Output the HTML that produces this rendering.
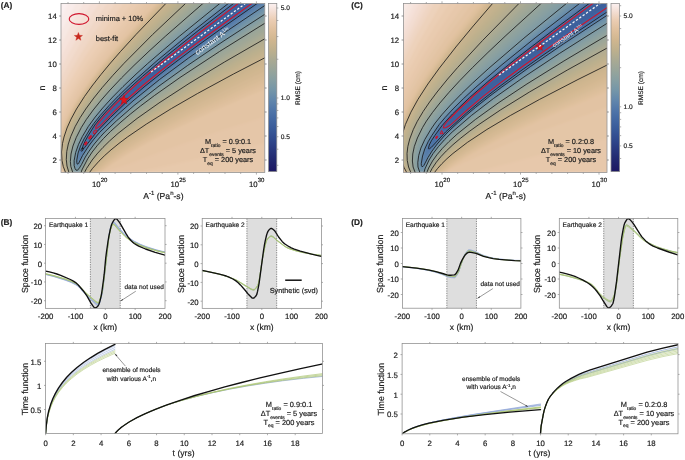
<!DOCTYPE html><html><head><meta charset="utf-8"><style>html,body{margin:0;padding:0;background:#fff;overflow:hidden;font-family:'Liberation Sans',sans-serif;}svg{display:block;will-change:transform;}</style></head><body><svg text-rendering="geometricPrecision" width="685" height="460" viewBox="0 0 685 460" font-family="'Liberation Sans', sans-serif">
<defs><filter id="blur1" x="-5%" y="-5%" width="110%" height="110%"><feGaussianBlur stdDeviation="0.9"/></filter><clipPath id="clipA"><rect x="61" y="3.5" width="203.8" height="168.9"/></clipPath><linearGradient id="cbA" x1="0" y1="1" x2="0" y2="0"><stop offset="0.000" stop-color="#1c1762"/><stop offset="0.066" stop-color="#21276e"/><stop offset="0.128" stop-color="#28377d"/><stop offset="0.188" stop-color="#2f488c"/><stop offset="0.247" stop-color="#375898"/><stop offset="0.307" stop-color="#4267a2"/><stop offset="0.366" stop-color="#5076a9"/><stop offset="0.426" stop-color="#6287ac"/><stop offset="0.485" stop-color="#7596a8"/><stop offset="0.545" stop-color="#879fa2"/><stop offset="0.604" stop-color="#98a59a"/><stop offset="0.664" stop-color="#aaaa93"/><stop offset="0.723" stop-color="#beb08d"/><stop offset="0.782" stop-color="#d0b68f"/><stop offset="0.842" stop-color="#dfc09d"/><stop offset="0.901" stop-color="#ebcdb3"/><stop offset="0.961" stop-color="#f5e2da"/><stop offset="1.000" stop-color="#fbf1f1"/></linearGradient><clipPath id="clipC"><rect x="403.4" y="3.5" width="203.60000000000002" height="168.9"/></clipPath><linearGradient id="cbC" x1="0" y1="1" x2="0" y2="0"><stop offset="0.000" stop-color="#1c1762"/><stop offset="0.066" stop-color="#21276e"/><stop offset="0.128" stop-color="#28377d"/><stop offset="0.188" stop-color="#2f488c"/><stop offset="0.247" stop-color="#375898"/><stop offset="0.307" stop-color="#4267a2"/><stop offset="0.366" stop-color="#5076a9"/><stop offset="0.426" stop-color="#6287ac"/><stop offset="0.485" stop-color="#7596a8"/><stop offset="0.545" stop-color="#879fa2"/><stop offset="0.604" stop-color="#98a59a"/><stop offset="0.664" stop-color="#aaaa93"/><stop offset="0.723" stop-color="#beb08d"/><stop offset="0.782" stop-color="#d0b68f"/><stop offset="0.842" stop-color="#dfc09d"/><stop offset="0.901" stop-color="#ebcdb3"/><stop offset="0.961" stop-color="#f5e2da"/><stop offset="1.000" stop-color="#fbf1f1"/></linearGradient><clipPath id="clipB1"><rect x="45.6" y="218.14999999999998" width="119.4" height="90.50000000000003"/></clipPath><clipPath id="clipB2"><rect x="202.2" y="218.14999999999998" width="119.19999999999999" height="90.50000000000003"/></clipPath><clipPath id="clipD1"><rect x="402.4" y="218.1" width="118.5" height="90.39999999999998"/></clipPath><clipPath id="clipD2"><rect x="559.3" y="218.2" width="118.5" height="90.29999999999998"/></clipPath><clipPath id="clipBT"><rect x="45.6" y="343.0" width="276.79999999999995" height="90.60000000000002"/></clipPath><clipPath id="clipDT"><rect x="402.1" y="343.1" width="275.9" height="90.69999999999999"/></clipPath></defs>
<rect width="685" height="460" fill="#fff"/>
<g clip-path="url(#clipA)">
<g filter="url(#blur1)">
<rect x="59" y="1.5" width="207.8" height="172.9" fill="#fbf1f1"/>
<path d="M265.5 173.0L265.5 2.5L68.2 2.5L60.0 19.5L60.0 173.0L265.5 173.0Z" fill="#f9ecea" fill-rule="evenodd"/>
<path d="M265.5 173.0L265.5 2.5L76.0 2.5L60.0 34.0L60.0 173.0L265.5 173.0Z" fill="#f7e8e3" fill-rule="evenodd"/>
<path d="M265.5 173.0L265.5 2.5L83.8 2.5L70.5 26.5L60.0 47.0L60.0 173.0L265.5 173.0Z" fill="#f6e3dc" fill-rule="evenodd"/>
<path d="M265.5 173.0L265.5 2.5L91.5 2.5L73.5 33.3L60.0 58.9L60.0 173.0L265.5 173.0Z" fill="#f4dfd5" fill-rule="evenodd"/>
<path d="M265.5 173.0L265.5 2.5L99.3 2.5L76.5 39.4L67.5 55.3L60.0 69.9L60.0 173.0L265.5 173.0Z" fill="#f2dbcd" fill-rule="evenodd"/>
<path d="M265.5 173.0L265.5 2.5L107.5 2.5L92.0 25.5L79.0 46.1L68.5 64.2L60.0 80.6L60.0 173.0L265.5 173.0Z" fill="#f0d7c6" fill-rule="evenodd"/>
<path d="M265.5 173.0L265.5 2.5L115.8 2.5L96.5 29.7L81.5 52.4L69.5 72.5L60.0 90.8L60.0 173.0L265.5 173.0Z" fill="#eed3be" fill-rule="evenodd"/>
<path d="M265.5 173.0L265.5 2.5L124.1 2.5L101.5 32.7L83.5 58.8L70.0 80.9L60.0 100.6L60.0 173.0L265.5 173.0Z" fill="#eccfb6" fill-rule="evenodd"/>
<path d="M265.5 173.0L265.5 2.5L132.5 2.5L106.0 36.1L86.0 63.8L71.0 87.8L65.3 98.5L60.7 108.5L60.0 110.1L60.0 172.1L60.6 173.0L265.5 173.0Z" fill="#eaccb1" fill-rule="evenodd"/>
<path d="M265.5 173.0L265.5 2.5L139.4 2.5L109.0 39.6L86.5 70.0L77.6 83.5L70.5 95.5L64.5 107.3L60.0 117.9L60.0 170.2L61.5 173.0L265.5 173.0Z" fill="#e7c9ac" fill-rule="evenodd"/>
<path d="M135.7 173.0L145.2 170.5L173.6 164.5L265.5 143.2L265.5 2.5L145.4 2.5L119.5 32.7L99.0 58.5L85.5 77.1L74.9 93.5L66.7 108.5L60.8 122.5L60.0 124.9L60.0 168.1L62.4 173.0L135.7 173.0Z" fill="#e5c6a8" fill-rule="evenodd"/>
<path d="M103.8 173.0L109.2 170.5L128.3 164.5L157.5 153.3L198.0 138.7L217.7 132.0L265.5 116.8L265.5 2.5L151.3 2.5L131.0 25.3L114.0 45.3L100.0 62.7L88.0 78.8L78.2 93.5L70.3 107.0L64.4 119.5L60.4 131.0L60.0 132.5L60.0 165.3L63.4 173.0L103.8 173.0Z" fill="#e3c4a4" fill-rule="evenodd"/>
<path d="M100.0 173.0L110.5 165.3L126.0 155.3L142.5 145.8L161.5 135.8L208.0 113.7L265.5 88.9L265.5 2.5L156.8 2.5L134.8 26.5L117.2 46.5L102.7 64.0L91.2 79.0L81.7 92.5L73.7 105.5L67.7 117.0L62.7 129.5L60.0 140.4L60.0 161.7L61.2 166.5L63.8 173.0L100.0 173.0Z" fill="#e0c19f" fill-rule="evenodd"/>
<path d="M98.6 173.0L111.5 163.2L124.5 154.6L141.0 144.8L159.5 134.7L206.5 111.8L265.5 85.7L265.5 2.5L158.1 2.5L120.5 43.9L106.0 61.1L93.5 77.1L83.0 91.8L74.7 105.0L68.4 117.0L63.6 128.5L61.5 135.5L60.0 142.7L60.0 160.3L61.3 166.0L64.1 173.0L98.6 173.0Z" fill="#debf9c" fill-rule="evenodd"/>
<path d="M97.2 173.0L109.5 163.2L122.5 154.1L138.5 144.2L158.0 133.3L181.5 121.2L206.0 109.3L265.5 82.3L265.5 2.5L159.4 2.5L121.5 43.9L107.0 61.0L94.5 76.8L84.2 91.0L75.9 104.0L69.4 116.0L64.4 127.5L61.6 136.5L60.0 145.3L60.2 160.0L61.7 166.5L64.3 173.0L97.2 173.0Z" fill="#dbbd99" fill-rule="evenodd"/>
<path d="M95.7 173.0L108.0 162.7L120.5 153.6L136.5 143.3L155.5 132.3L179.0 119.8L204.0 107.3L265.5 78.8L265.5 2.5L160.6 2.5L123.0 43.3L108.5 60.2L96.0 75.8L85.5 90.1L76.8 103.5L70.0 115.8L65.1 127.0L61.6 138.5L60.0 149.2L60.0 155.5L60.7 161.5L62.1 167.0L64.5 173.0L95.7 173.0Z" fill="#d8bb96" fill-rule="evenodd"/>
<path d="M94.3 173.0L106.0 162.5L118.0 153.4L134.0 142.7L152.0 131.8L176.0 118.7L202.0 105.3L265.5 75.0L265.5 2.5L161.8 2.5L124.0 43.3L109.5 60.1L97.0 75.5L86.5 89.7L78.0 102.6L71.0 114.9L65.9 126.0L61.8 139.0L60.2 151.0L60.4 157.0L61.2 162.5L62.5 167.5L64.7 173.0L94.3 173.0Z" fill="#d5b994" fill-rule="evenodd"/>
<path d="M92.8 173.0L104.0 162.4L115.5 153.2L131.0 142.3L148.5 131.3L173.5 117.1L199.5 103.3L230.5 87.8L265.5 71.0L265.5 2.5L163.0 2.5L125.5 42.7L111.0 59.3L98.5 74.6L87.7 89.0L79.0 101.9L72.0 114.0L66.8 125.0L62.4 138.5L61.1 145.0L60.6 151.0L60.7 157.0L61.4 162.5L62.7 167.5L64.9 173.0L92.8 173.0Z" fill="#d2b791" fill-rule="evenodd"/>
<path d="M91.4 173.0L102.5 161.8L114.0 152.1L129.5 140.8L147.5 129.3L171.5 115.2L198.0 100.7L229.0 84.7L265.5 66.7L265.5 2.5L164.3 2.5L127.0 42.1L112.0 59.2L99.5 74.3L89.0 88.2L80.0 101.3L73.0 113.2L67.5 124.5L62.9 138.0L61.5 144.5L60.9 150.5L60.9 156.5L61.6 162.0L63.0 167.5L65.0 172.8L91.4 173.0Z" fill="#cfb68f" fill-rule="evenodd"/>
<path d="M89.9 173.0L92.2 170.0L100.0 162.0L111.5 151.8L126.5 140.3L144.0 128.6L168.5 113.7L196.0 98.2L228.0 81.2L265.5 62.2L265.5 2.5L165.5 2.5L128.0 42.1L113.0 59.0L100.5 74.1L90.0 87.7L81.0 100.8L73.9 112.5L68.4 123.5L63.4 137.5L62.0 144.0L61.3 150.0L61.3 157.0L61.9 162.0L63.0 166.9L65.0 172.3L65.4 173.0L89.9 173.0Z" fill="#cbb48e" fill-rule="evenodd"/>
<path d="M89.1 173.0L92.5 168.4L99.0 161.1L111.0 149.9L127.5 137.0L146.5 124.0L171.5 108.5L197.5 93.5L233.5 74.0L265.5 57.4L265.5 2.5L166.8 2.5L130.0 41.0L103.0 72.0L92.0 86.0L80.5 102.5L74.5 112.5L68.5 124.5L65.6 132.0L63.5 138.9L61.6 151.0L62.1 161.5L63.3 166.5L65.3 172.0L65.8 173.0L89.1 173.0Z" fill="#c8b38e" fill-rule="evenodd"/>
<path d="M88.3 173.0L91.5 168.5L98.0 161.0L109.5 149.8L125.5 136.9L144.5 123.7L168.0 108.8L195.0 92.9L227.0 75.2L265.5 54.8L265.5 2.5L169.6 2.5L132.0 41.4L117.0 57.9L104.0 73.1L93.0 86.9L84.0 99.4L76.5 111.3L70.5 122.5L65.4 135.5L62.7 147.5L62.4 158.5L63.2 164.0L64.5 168.5L66.2 173.0L88.3 173.0Z" fill="#c4b28e" fill-rule="evenodd"/>
<path d="M87.6 173.0L90.5 168.6L97.0 160.8L108.5 149.3L124.5 136.2L143.5 122.7L166.5 107.8L194.5 91.1L227.0 72.9L265.5 52.2L265.5 2.5L172.6 2.5L134.5 41.2L106.5 72.3L95.5 85.9L86.0 98.7L78.3 110.5L72.2 121.5L66.8 134.5L63.8 146.0L63.0 157.0L63.5 162.5L64.6 167.0L66.7 173.0L87.6 173.0Z" fill="#c1b18d" fill-rule="evenodd"/>
<path d="M86.8 173.0L89.5 168.7L96.0 160.6L107.5 148.8L123.5 135.4L142.5 121.6L166.0 106.2L194.0 89.3L226.5 70.7L265.5 49.5L265.5 2.5L175.5 2.5L137.0 41.1L108.5 72.2L97.0 86.1L87.7 98.5L80.0 110.0L73.7 121.0L67.9 134.0L64.7 145.5L63.7 156.0L64.0 161.5L64.9 166.0L67.3 173.0L86.8 173.0Z" fill="#bdb08d" fill-rule="evenodd"/>
<path d="M86.0 173.0L88.4 169.0L95.0 160.4L106.5 148.3L122.0 134.9L141.0 120.9L164.5 105.2L192.0 88.2L225.5 68.8L265.5 46.7L265.5 2.5L178.4 2.5L140.0 40.4L111.0 71.5L99.5 85.2L90.0 97.4L82.0 108.9L75.4 120.0L69.5 132.6L65.9 144.0L64.4 154.5L65.1 164.5L67.8 173.0L86.0 173.0Z" fill="#b9af8e" fill-rule="evenodd"/>
<path d="M85.2 173.0L87.0 169.6L94.0 160.1L105.5 147.6L121.5 133.6L140.0 119.8L163.5 103.8L191.5 86.2L225.5 66.2L265.5 43.8L265.5 2.5L181.3 2.5L181.0 2.8L142.5 40.3L113.5 70.9L102.0 84.2L92.0 96.8L83.5 108.7L76.9 119.5L71.2 131.0L66.9 143.5L65.2 154.0L65.6 164.0L68.3 173.0L85.2 173.0Z" fill="#b5ad90" fill-rule="evenodd"/>
<path d="M84.7 173.0L87.3 168.0L92.5 160.5L104.0 147.5L119.5 133.5L138.0 119.3L162.0 102.6L190.0 84.8L224.5 64.2L265.5 40.8L265.5 2.5L184.3 2.5L175.5 10.7L139.0 46.2L111.5 75.3L100.5 88.1L91.0 100.2L83.4 111.0L77.0 121.4L71.2 133.5L67.5 144.5L65.9 154.5L66.2 164.0L68.7 173.0L84.7 173.0Z" fill="#b1ac91" fill-rule="evenodd"/>
<path d="M84.1 173.0L86.4 168.5L92.0 160.0L103.0 147.1L118.0 133.2L137.0 118.2L161.0 101.3L189.5 82.9L223.5 62.2L265.5 37.9L265.5 2.5L187.1 2.5L170.0 18.4L136.0 51.4L110.4 78.5L98.9 92.0L90.3 103.0L83.3 113.0L77.2 123.0L71.7 134.5L68.2 145.0L66.6 154.5L66.7 164.0L69.2 173.0L84.1 173.0Z" fill="#adab92" fill-rule="evenodd"/>
<path d="M83.5 173.0L85.4 169.0L91.5 159.6L96.5 153.2L102.5 146.5L117.5 132.4L136.5 117.3L160.5 100.2L189.5 81.3L224.0 60.1L265.5 35.8L265.5 2.5L189.6 2.5L167.0 23.3L134.5 54.7L109.5 81.2L99.5 92.9L90.8 104.0L83.5 114.4L77.7 124.0L72.2 135.5L68.8 145.5L67.2 155.0L67.3 164.0L69.7 173.0L83.5 173.0Z" fill="#a9aa93" fill-rule="evenodd"/>
<path d="M82.9 173.0L84.2 170.0L91.0 159.2L101.5 146.5L116.5 132.1L135.5 116.8L159.0 99.8L188.5 80.3L224.0 58.3L265.5 33.7L265.5 2.5L192.0 2.5L164.0 28.2L133.0 58.1L109.0 83.5L91.0 105.4L84.0 115.3L78.4 124.5L73.0 135.6L69.5 145.5L67.8 154.5L67.7 163.5L70.2 173.0L82.9 173.0Z" fill="#a6a995" fill-rule="evenodd"/>
<path d="M82.4 173.0L83.5 170.0L90.3 159.0L95.0 152.7L101.0 145.8L115.2 132.0L135.0 115.8L158.5 98.7L187.5 79.3L222.5 57.3L265.5 31.6L265.5 2.5L194.5 2.5L161.0 32.9L131.5 61.3L108.5 85.7L91.3 106.5L84.5 116.2L79.0 125.0L73.7 136.0L70.3 145.5L68.5 154.5L68.2 163.0L68.9 167.0L70.7 173.0L82.4 173.0Z" fill="#a2a896" fill-rule="evenodd"/>
<path d="M82.0 173.0L83.5 168.9L89.2 159.5L94.0 152.8L100.0 145.7L113.8 132.0L134.0 115.2L157.5 97.8L187.0 77.9L222.0 55.7L265.5 29.4L265.5 2.5L197.0 2.5L158.5 37.2L130.5 64.1L108.5 87.3L91.8 107.5L85.0 117.0L79.7 125.5L74.5 136.0L71.0 145.5L69.2 154.0L68.8 162.5L69.4 167.0L71.2 173.0L82.0 173.0Z" fill="#9fa797" fill-rule="evenodd"/>
<path d="M81.6 173.0L84.0 167.0L88.3 159.5L93.0 152.8L99.0 145.6L112.4 132.0L133.0 114.6L157.0 96.7L186.0 76.8L222.0 53.7L265.5 27.1L265.5 2.5L199.4 2.5L155.5 41.8L129.0 67.3L108.0 89.4L92.0 108.7L85.5 117.8L80.4 126.0L75.1 136.5L71.7 145.5L69.8 154.0L69.3 162.0L69.8 166.5L71.8 173.0L81.6 173.0Z" fill="#9ca699" fill-rule="evenodd"/>
<path d="M81.3 173.0L83.2 168.0L88.0 158.9L91.5 153.5L98.0 145.4L110.9 132.0L132.5 113.6L156.0 95.8L185.5 75.4L222.0 51.7L265.5 24.8L265.5 2.5L201.9 2.5L153.0 46.0L128.0 69.9L108.0 91.0L92.2 110.0L86.0 118.6L81.1 126.5L76.0 136.5L72.7 145.0L70.6 153.0L69.9 161.5L70.4 166.5L72.4 173.0L81.3 173.0Z" fill="#98a59a" fill-rule="evenodd"/>
<path d="M80.9 173.0L81.8 170.0L87.8 158.5L92.1 152.0L97.5 145.1L110.4 131.5L131.0 113.5L155.0 95.0L185.0 74.0L221.0 50.4L265.5 22.6L265.5 2.5L204.4 2.5L174.5 28.4L151.0 49.6L127.0 72.5L108.0 92.5L92.9 110.5L86.8 119.0L81.7 127.0L76.6 137.0L73.2 145.5L71.2 153.5L70.4 161.0L70.8 166.0L73.0 173.0L80.9 173.0Z" fill="#95a49c" fill-rule="evenodd"/>
<path d="M80.5 173.0L81.4 170.0L87.5 158.3L92.0 151.5L97.5 144.5L110.0 131.2L131.0 112.7L155.0 94.2L185.0 73.1L221.0 49.4L265.5 21.4L265.5 2.5L206.7 2.5L175.5 29.3L149.5 52.6L126.5 74.5L108.0 93.9L93.3 111.5L82.6 127.0L77.5 136.7L74.1 145.0L72.0 152.5L71.1 160.0L71.3 165.5L73.5 173.0L80.5 173.0Z" fill="#91a39d" fill-rule="evenodd"/>
<path d="M80.0 173.0L81.0 170.0L87.2 158.0L91.5 151.5L97.0 144.4L109.0 131.5L130.5 112.4L154.5 93.8L184.0 72.9L220.5 48.7L265.5 20.2L265.5 2.5L209.0 2.5L175.5 31.0L148.0 55.5L126.0 76.5L108.0 95.3L93.9 112.0L83.5 127.0L78.4 136.5L75.0 144.5L72.8 152.0L71.7 159.0L71.7 164.5L74.0 173.0L80.0 173.0Z" fill="#8ea19f" fill-rule="evenodd"/>
<path d="M79.4 173.0L80.2 170.5L87.1 157.5L91.3 151.0L97.0 143.7L109.5 130.3L130.5 111.7L154.5 92.9L184.5 71.6L221.0 47.3L265.5 19.0L265.5 2.5L211.3 2.5L175.5 32.7L147.0 58.0L126.0 77.9L108.5 96.1L94.5 112.6L84.4 127.0L79.2 136.5L76.0 143.8L73.7 151.0L72.4 158.0L72.2 164.5L74.5 173.0L79.4 173.0Z" fill="#8ba0a0" fill-rule="evenodd"/>
<path d="M78.8 173.0L79.6 170.5L86.3 158.0L93.4 147.5L104.0 135.1L117.0 122.7L129.0 112.2L142.0 101.6L173.5 78.3L214.0 50.8L265.5 17.8L265.5 2.5L213.7 2.5L176.0 34.0L146.0 60.5L125.5 79.9L108.5 97.5L95.0 113.3L85.3 127.0L80.3 136.0L77.1 143.0L74.8 149.5L73.2 156.5L72.8 164.5L75.0 173.0L78.8 173.0Z" fill="#879fa2" fill-rule="evenodd"/>
<path d="M78.2 173.0L79.0 170.5L86.1 157.5L93.5 146.6L105.0 133.4L118.0 121.0L142.5 100.4L174.5 76.7L214.0 49.8L265.5 16.6L265.5 2.5L216.0 2.5L176.5 35.2L145.0 62.9L125.0 81.7L109.0 98.2L96.0 113.4L86.5 126.5L78.2 142.0L75.6 149.0L74.1 155.0L73.3 161.5L73.6 167.0L75.6 173.0L78.2 173.0Z" fill="#849da3" fill-rule="evenodd"/>
<path d="M77.5 172.5L78.5 170.1L81.5 165.6L86.5 156.0L94.0 145.2L105.5 132.1L119.0 119.4L143.5 98.8L175.0 75.4L214.5 48.4L265.5 15.3L265.5 2.5L218.3 2.5L177.5 36.0L145.5 63.9L126.0 82.1L110.0 98.5L97.0 113.4L87.4 126.5L78.8 142.5L76.2 149.0L74.4 156.0L73.6 162.0L73.8 166.0L76.0 172.1L77.0 172.9L77.5 172.5Z" fill="#809ca4" fill-rule="evenodd"/>
<path d="M77.3 170.5L81.0 165.6L87.9 153.0L95.6 142.5L104.9 132.0L121.5 116.4L146.0 96.1L177.0 73.1L215.5 46.6L265.5 14.0L265.5 2.5L220.6 2.5L180.5 35.1L148.5 62.6L129.5 80.1L111.6 98.0L99.2 112.0L88.2 126.5L80.0 141.0L77.2 147.5L75.3 153.5L74.3 159.0L74.0 164.5L75.2 169.0L76.0 170.2L77.3 170.5Z" fill="#7d9aa5" fill-rule="evenodd"/>
<path d="M77.5 169.5L80.8 165.0L87.7 152.5L96.0 141.2L104.5 131.7L122.5 114.7L146.5 94.8L177.5 71.8L216.5 44.9L265.5 12.8L265.5 2.5L222.1 2.5L181.0 35.7L148.5 63.5L129.0 81.4L112.5 97.9L99.0 113.0L89.1 126.0L80.7 140.5L78.0 146.5L76.0 152.5L74.7 159.0L74.4 164.5L75.5 168.6L76.5 169.5L77.5 169.5Z" fill="#7998a7" fill-rule="evenodd"/>
<path d="M77.8 168.5L80.6 164.5L87.1 152.5L96.0 140.5L104.0 131.5L124.0 112.6L148.0 92.8L179.0 69.8L217.5 43.1L265.5 11.5L265.5 2.5L223.4 2.5L181.5 36.2L149.0 63.9L129.5 81.7L113.5 97.6L100.0 112.5L89.9 125.5L81.4 140.0L78.5 146.3L76.5 152.1L75.1 159.0L74.7 164.5L76.0 168.3L77.0 168.7L77.8 168.5Z" fill="#7696a8" fill-rule="evenodd"/>
<path d="M78.0 167.5L80.1 164.5L86.6 152.5L96.1 139.5L106.3 128.5L125.0 111.0L149.5 90.8L180.0 68.1L218.0 41.7L265.5 10.2L265.5 2.5L224.6 2.5L182.5 36.3L149.5 64.2L130.0 82.0L114.0 97.7L100.5 112.6L90.5 125.4L82.0 139.7L77.1 151.5L75.7 157.5L75.1 164.5L76.0 167.3L77.0 167.9L78.0 167.5Z" fill="#7294a9" fill-rule="evenodd"/>
<path d="M78.2 166.5L86.5 151.7L96.3 138.5L105.5 128.5L126.5 108.9L151.0 88.8L181.0 66.4L218.5 40.2L265.5 8.9L265.5 2.5L225.9 2.5L183.5 36.3L150.5 64.1L131.0 81.7L115.0 97.4L101.5 112.1L91.3 125.0L82.6 139.5L77.7 151.0L75.9 158.0L75.4 164.0L76.5 166.8L77.5 167.0L78.2 166.5Z" fill="#6e91a9" fill-rule="evenodd"/>
<path d="M77.7 166.0L79.0 164.7L82.2 158.0L86.7 150.5L97.0 136.9L101.3 132.0L113.0 120.5L128.0 106.8L152.5 86.7L182.5 64.3L219.5 38.4L265.5 7.6L265.5 2.5L227.2 2.5L184.5 36.4L151.0 64.5L131.5 82.0L115.5 97.6L102.5 111.6L92.1 124.5L83.3 139.0L78.4 150.0L76.5 156.8L75.8 162.5L76.1 165.0L76.5 165.8L77.7 166.0Z" fill="#6b8eaa" fill-rule="evenodd"/>
<path d="M78.0 165.0L85.8 151.0L91.1 143.5L97.0 136.1L101.0 131.6L114.0 118.8L129.5 104.6L153.0 85.4L183.0 62.9L219.5 37.2L265.5 6.2L265.5 2.5L228.5 2.5L185.0 36.8L151.5 64.8L132.0 82.2L116.0 97.7L103.0 111.7L92.6 124.5L83.9 138.5L79.0 149.1L77.1 155.5L76.3 161.0L76.4 164.5L77.0 165.0L78.0 165.0Z" fill="#678bab" fill-rule="evenodd"/>
<path d="M77.6 164.0L79.0 162.6L82.5 155.4L87.2 148.0L97.7 134.5L115.0 117.1L130.5 103.0L155.0 82.9L185.0 60.4L222.5 34.0L265.5 4.9L265.5 2.5L229.7 2.5L188.5 34.8L153.5 63.8L136.0 79.2L118.0 96.4L103.7 111.5L93.8 123.5L85.2 137.0L80.0 147.5L78.1 153.0L77.0 158.4L76.8 162.5L77.6 164.0Z" fill="#6388ac" fill-rule="evenodd"/>
<path d="M78.6 161.5L87.7 146.5L99.2 132.0L118.0 113.5L134.5 98.8L155.5 81.7L180.5 62.8L218.5 35.7L265.5 3.6L265.5 2.5L230.6 2.5L189.5 34.6L156.5 61.8L137.0 78.9L120.5 94.4L106.5 108.9L95.5 121.9L86.5 135.3L81.0 146.0L78.9 151.5L77.6 157.0L77.5 160.9L78.0 161.7L78.6 161.5Z" fill="#6085ac" fill-rule="evenodd"/>
<path d="M79.4 159.0L89.0 143.7L98.5 132.0L119.0 111.8L137.0 95.9L160.5 77.0L189.0 55.6L223.5 31.1L265.3 2.5L231.5 2.5L192.0 33.3L160.0 59.4L140.0 76.7L123.0 92.4L109.0 106.6L97.5 119.8L90.5 129.5L82.2 144.0L79.9 149.5L78.4 155.0L78.2 158.5L78.5 159.2L79.4 159.0Z" fill="#5c81ab" fill-rule="evenodd"/>
<path d="M80.2 156.5L89.8 142.0L97.8 132.0L119.5 110.6L138.5 93.8L161.5 75.3L189.5 54.3L222.5 30.7L263.5 2.5L232.4 2.5L192.0 33.9L160.0 59.9L140.5 76.7L124.0 92.0L110.0 106.0L99.0 118.4L92.4 127.0L83.5 142.2L79.5 152.5L79.0 156.0L79.5 156.8L80.2 156.5Z" fill="#597eaa" fill-rule="evenodd"/>
<path d="M81.0 154.0L83.0 151.7L90.9 140.0L97.5 131.7L119.5 109.9L140.0 91.7L162.5 73.6L189.5 53.3L222.5 29.6L261.6 2.5L233.3 2.5L192.5 34.1L159.5 60.9L141.0 76.8L125.0 91.5L111.5 104.9L100.2 117.5L93.1 126.5L85.0 140.0L80.5 150.5L80.1 153.5L80.5 154.1L81.0 154.0Z" fill="#557baa" fill-rule="evenodd"/>
<path d="M82.4 151.0L93.2 136.5L100.0 128.7L120.0 108.6L141.5 89.7L163.5 72.0L190.0 51.9L221.5 29.2L259.8 2.5L234.2 2.5L192.5 34.7L159.5 61.4L141.5 76.9L126.0 91.0L113.0 103.8L101.8 116.0L93.8 126.0L86.0 138.9L81.5 149.0L81.5 151.2L82.4 151.0Z" fill="#5278a9" fill-rule="evenodd"/>
<path d="M83.5 148.0L96.4 132.0L111.5 116.3L126.5 102.0L144.4 86.5L167.0 68.5L191.5 50.0L222.0 27.9L258.2 2.5L235.1 2.5L195.0 33.3L161.5 60.3L129.0 88.7L115.5 101.7L104.4 113.5L94.9 125.0L88.5 135.3L84.0 143.9L83.1 147.0L83.5 148.0Z" fill="#4f74a8" fill-rule="evenodd"/>
<path d="M86.2 143.5L96.0 132.0L115.0 112.4L129.5 98.9L146.5 84.3L168.0 67.2L193.0 48.3L257.3 2.5L236.0 2.5L196.5 32.7L164.5 58.3L131.5 86.8L118.5 99.2L107.0 111.1L99.0 120.2L93.9 127.0L86.5 139.9L85.4 143.0L85.5 143.8L86.2 143.5Z" fill="#4c71a7" fill-rule="evenodd"/>
<path d="M88.8 139.0L120.0 107.2L134.0 94.5L150.5 80.6L171.0 64.4L195.0 46.3L256.3 2.5L236.8 2.5L199.0 31.3L169.0 55.1L136.0 83.2L122.5 95.7L111.0 107.2L102.0 117.1L95.2 125.5L89.0 136.5L88.3 138.5L88.3 139.0L88.8 139.0Z" fill="#496fa6" fill-rule="evenodd"/>
<path d="M92.7 133.5L100.0 127.2L113.0 113.6L125.5 101.7L139.0 89.7L155.0 76.5L198.5 43.2L255.4 2.5L237.7 2.5L202.5 29.2L173.0 52.4L140.5 79.6L115.5 103.0L104.7 114.5L96.3 124.5L93.0 130.0L92.0 133.8L92.7 133.5Z" fill="#466ca4" fill-rule="evenodd"/>
<path d="M95.2 130.5L100.0 126.8L114.0 112.2L127.0 99.9L156.5 74.8L198.5 42.6L254.4 2.5L238.5 2.5L202.5 29.7L173.0 52.9L141.5 79.2L117.0 101.9L105.5 114.0L96.5 124.7L94.0 129.6L94.0 130.6L95.2 130.5Z" fill="#4469a3" fill-rule="evenodd"/>
<path d="M96.6 128.5L101.0 125.3L113.5 112.2L126.0 100.3L138.5 89.3L156.5 74.3L197.5 42.8L253.4 2.5L239.4 2.5L203.0 29.9L173.0 53.4L143.5 77.9L119.9 99.5L109.5 110.1L99.0 122.0L95.6 127.0L95.5 128.3L96.0 128.7L96.6 128.5Z" fill="#4166a1" fill-rule="evenodd"/>
<path d="M98.1 127.0L100.7 125.0L114.0 111.2L127.0 98.8L157.5 72.8L199.0 40.9L252.0 2.5L240.6 2.5L199.5 33.4L167.0 59.0L139.0 82.5L118.0 102.0L106.5 113.9L99.5 122.1L96.6 126.5L97.0 127.3L98.1 127.0Z" fill="#3f639f" fill-rule="evenodd"/>
<path d="M99.6 125.0L125.0 99.8L138.5 87.7L156.5 72.6L197.0 41.2L250.1 2.5L242.2 2.5L198.0 35.6L162.5 63.5L140.0 82.5L119.4 101.5L103.0 118.7L98.4 125.0L98.5 125.4L99.6 125.0Z" fill="#3d609d" fill-rule="evenodd"/>
</g>
<path d="M234.87 2.50L198.00 30.77L168.00 54.73L142.50 76.32L123.00 94.19L106.55 111.00L100.39 118.00L94.80 125.00L88.00 135.88L85.00 141.32L83.00 145.97L82.47 148.00L82.50 149.17L83.50 148.80L84.50 147.66L96.57 132.00L110.50 117.44L125.50 103.02L144.00 87.00L166.50 69.00L191.00 50.50L223.50 27.01L258.53 2.50" fill="none" stroke="#151515" stroke-width="0.85" stroke-opacity="0.95"/>
<path d="M229.58 2.50L188.50 34.72L157.00 60.70L130.50 84.23L119.00 95.30L109.11 105.50L100.20 115.50L93.79 123.50L89.39 130.00L84.00 138.98L80.50 146.15L78.08 153.00L76.80 160.00L76.77 162.50L77.19 164.00L78.00 164.11L78.50 163.62L82.50 155.49L88.70 146.00L93.60 139.50L99.50 132.52L117.78 114.50L134.05 100.00L159.50 79.54L188.50 58.00L227.00 31.00L265.50 5.00" fill="none" stroke="#151515" stroke-width="0.85" stroke-opacity="0.95"/>
<path d="M221.01 2.50L179.50 36.18L147.50 63.70L136.00 74.16L123.00 86.59L112.73 97.00L102.70 108.00L95.23 117.00L88.30 126.50L82.37 136.50L78.50 144.43L75.66 152.50L74.17 160.50L74.17 165.50L75.00 168.50L76.00 170.01L77.00 170.41L77.50 170.28L79.50 167.81L81.55 164.50L85.35 157.00L88.80 151.50L94.27 144.00L100.60 136.50L105.28 131.50L116.50 120.81L134.00 105.54L159.00 86.01L187.50 65.52L223.00 41.45L265.50 13.81" fill="none" stroke="#151515" stroke-width="0.85" stroke-opacity="0.95"/>
<path d="M204.07 2.50L165.50 36.17L149.00 51.21L134.00 65.45L121.50 77.91L110.08 90.00L101.27 100.00L93.19 110.00L86.32 119.50L81.32 127.50L76.25 137.50L72.96 146.00L71.01 154.00L70.37 161.50L70.85 166.50L72.93 173.00M80.93 173.00L81.89 170.00L87.85 158.50L92.18 152.00L97.50 145.22L103.50 138.50L110.45 131.50L121.00 121.98L130.47 114.00L140.50 106.00L154.47 95.50L180.00 77.50L219.50 51.50L265.50 22.83" fill="none" stroke="#151515" stroke-width="0.85" stroke-opacity="0.95"/>
<path d="M186.56 2.50L152.50 34.64L123.84 63.50L112.73 75.50L102.29 87.50L93.82 98.00L85.76 109.00L80.23 117.50L75.18 126.50L70.76 136.50L68.30 144.00L66.76 151.50L66.30 159.50L66.99 166.00L69.11 173.00M84.22 173.00L86.50 168.52L92.18 160.00L97.00 153.94L103.00 147.37L109.50 141.00L118.00 133.43L137.03 118.50L158.95 103.00L189.00 83.50L224.50 62.00L265.50 38.36" fill="none" stroke="#151515" stroke-width="0.85" stroke-opacity="0.95"/>
<path d="M166.82 2.50L136.00 34.49L120.50 51.50L110.50 62.99L101.00 74.47L92.00 86.00L84.50 96.48L76.50 108.99L71.00 119.15L67.03 128.00L64.00 137.00L62.50 143.50L61.57 152.00L62.00 160.52L63.29 166.50L65.76 173.00M89.11 173.00L92.50 168.43L99.00 161.14L104.71 155.50L111.00 149.89L119.00 143.36L127.50 136.96L146.50 124.00L171.47 108.50L197.54 93.50L233.50 74.00L265.50 57.44" fill="none" stroke="#151515" stroke-width="0.85" stroke-opacity="0.95"/>
<path d="M239.59 2.50L205.00 28.50L184.99 44.00L162.53 62.00L143.50 78.03L128.98 91.00L112.50 107.02L105.50 114.51L99.00 122.13L96.49 125.50L95.74 127.00L95.71 128.00L96.00 128.32L97.00 128.18L100.00 126.17L114.00 111.65L126.50 99.76L142.50 85.75L161.50 70.20L179.50 56.19L201.50 39.69L253.21 2.50" fill="none" stroke="#d0142c" stroke-width="1.1"/>
<ellipse cx="85.8" cy="143.4" rx="0.9" ry="1.9" transform="rotate(30 85.8 143.4)" fill="#d0142c" stroke="#d0142c" stroke-width="0.8"/>
<ellipse cx="90.1" cy="137.3" rx="1.0" ry="2.1" transform="rotate(35 90.1 137.3)" fill="#d0142c" stroke="#d0142c" stroke-width="0.8"/>
<ellipse cx="94.9" cy="131.9" rx="1.1" ry="2.2" transform="rotate(35 94.9 131.9)" fill="none" stroke="#d0142c" stroke-width="1.0"/>
<ellipse cx="82.2" cy="149.4" rx="0.9" ry="2.0" transform="rotate(25 82.2 149.4)" fill="none" stroke="#1a1a1a" stroke-width="0.7"/>
<path d="M124.00 95.20 L125.18 98.37 L128.57 98.52 L125.92 100.62 L126.82 103.88 L124.00 102.02 L121.18 103.88 L122.08 100.62 L119.43 98.52 L122.82 98.37Z" fill="#e3141c" stroke="#a01010" stroke-width="0.4" stroke-linejoin="round"/>
<line x1="151" y1="72" x2="247.5" y2="2" stroke="#f4f4f4" stroke-width="1.25" stroke-dasharray="2.3 1.8"/>
</g>
<rect x="61.00" y="3.50" width="203.80" height="168.90" fill="none" stroke="#8c8c8c" stroke-width="0.75"/>
<line x1="68.00" y1="3.50" x2="68.00" y2="2.00" stroke="#8c8c8c" stroke-width="0.7" />
<line x1="68.00" y1="172.40" x2="68.00" y2="173.90" stroke="#8c8c8c" stroke-width="0.7" />
<line x1="83.70" y1="3.50" x2="83.70" y2="2.00" stroke="#8c8c8c" stroke-width="0.7" />
<line x1="83.70" y1="172.40" x2="83.70" y2="173.90" stroke="#8c8c8c" stroke-width="0.7" />
<line x1="99.40" y1="3.50" x2="99.40" y2="1.30" stroke="#8c8c8c" stroke-width="0.7" />
<line x1="99.40" y1="172.40" x2="99.40" y2="174.60" stroke="#8c8c8c" stroke-width="0.7" />
<line x1="115.10" y1="3.50" x2="115.10" y2="2.00" stroke="#8c8c8c" stroke-width="0.7" />
<line x1="115.10" y1="172.40" x2="115.10" y2="173.90" stroke="#8c8c8c" stroke-width="0.7" />
<line x1="130.80" y1="3.50" x2="130.80" y2="2.00" stroke="#8c8c8c" stroke-width="0.7" />
<line x1="130.80" y1="172.40" x2="130.80" y2="173.90" stroke="#8c8c8c" stroke-width="0.7" />
<line x1="146.50" y1="3.50" x2="146.50" y2="2.00" stroke="#8c8c8c" stroke-width="0.7" />
<line x1="146.50" y1="172.40" x2="146.50" y2="173.90" stroke="#8c8c8c" stroke-width="0.7" />
<line x1="162.20" y1="3.50" x2="162.20" y2="2.00" stroke="#8c8c8c" stroke-width="0.7" />
<line x1="162.20" y1="172.40" x2="162.20" y2="173.90" stroke="#8c8c8c" stroke-width="0.7" />
<line x1="177.90" y1="3.50" x2="177.90" y2="1.30" stroke="#8c8c8c" stroke-width="0.7" />
<line x1="177.90" y1="172.40" x2="177.90" y2="174.60" stroke="#8c8c8c" stroke-width="0.7" />
<line x1="193.60" y1="3.50" x2="193.60" y2="2.00" stroke="#8c8c8c" stroke-width="0.7" />
<line x1="193.60" y1="172.40" x2="193.60" y2="173.90" stroke="#8c8c8c" stroke-width="0.7" />
<line x1="209.30" y1="3.50" x2="209.30" y2="2.00" stroke="#8c8c8c" stroke-width="0.7" />
<line x1="209.30" y1="172.40" x2="209.30" y2="173.90" stroke="#8c8c8c" stroke-width="0.7" />
<line x1="225.00" y1="3.50" x2="225.00" y2="2.00" stroke="#8c8c8c" stroke-width="0.7" />
<line x1="225.00" y1="172.40" x2="225.00" y2="173.90" stroke="#8c8c8c" stroke-width="0.7" />
<line x1="240.70" y1="3.50" x2="240.70" y2="2.00" stroke="#8c8c8c" stroke-width="0.7" />
<line x1="240.70" y1="172.40" x2="240.70" y2="173.90" stroke="#8c8c8c" stroke-width="0.7" />
<line x1="256.40" y1="3.50" x2="256.40" y2="1.30" stroke="#8c8c8c" stroke-width="0.7" />
<line x1="256.40" y1="172.40" x2="256.40" y2="174.60" stroke="#8c8c8c" stroke-width="0.7" />
<line x1="61.00" y1="160.00" x2="59.20" y2="160.00" stroke="#777" stroke-width="0.8" />
<line x1="264.80" y1="160.00" x2="266.60" y2="160.00" stroke="#777" stroke-width="0.8" />
<text x="56.80" y="163.00" font-size="7.8" text-anchor="end" fill="#222222" stroke="#1c1c1c" stroke-width="0.18" >2</text>
<line x1="61.00" y1="136.00" x2="59.20" y2="136.00" stroke="#777" stroke-width="0.8" />
<line x1="264.80" y1="136.00" x2="266.60" y2="136.00" stroke="#777" stroke-width="0.8" />
<text x="56.80" y="139.00" font-size="7.8" text-anchor="end" fill="#222222" stroke="#1c1c1c" stroke-width="0.18" >4</text>
<line x1="61.00" y1="112.00" x2="59.20" y2="112.00" stroke="#777" stroke-width="0.8" />
<line x1="264.80" y1="112.00" x2="266.60" y2="112.00" stroke="#777" stroke-width="0.8" />
<text x="56.80" y="115.00" font-size="7.8" text-anchor="end" fill="#222222" stroke="#1c1c1c" stroke-width="0.18" >6</text>
<line x1="61.00" y1="88.00" x2="59.20" y2="88.00" stroke="#777" stroke-width="0.8" />
<line x1="264.80" y1="88.00" x2="266.60" y2="88.00" stroke="#777" stroke-width="0.8" />
<text x="56.80" y="91.00" font-size="7.8" text-anchor="end" fill="#222222" stroke="#1c1c1c" stroke-width="0.18" >8</text>
<line x1="61.00" y1="64.00" x2="59.20" y2="64.00" stroke="#777" stroke-width="0.8" />
<line x1="264.80" y1="64.00" x2="266.60" y2="64.00" stroke="#777" stroke-width="0.8" />
<text x="56.80" y="67.00" font-size="7.8" text-anchor="end" fill="#222222" stroke="#1c1c1c" stroke-width="0.18" >10</text>
<line x1="61.00" y1="40.00" x2="59.20" y2="40.00" stroke="#777" stroke-width="0.8" />
<line x1="264.80" y1="40.00" x2="266.60" y2="40.00" stroke="#777" stroke-width="0.8" />
<text x="56.80" y="43.00" font-size="7.8" text-anchor="end" fill="#222222" stroke="#1c1c1c" stroke-width="0.18" >12</text>
<line x1="61.00" y1="16.00" x2="59.20" y2="16.00" stroke="#777" stroke-width="0.8" />
<line x1="264.80" y1="16.00" x2="266.60" y2="16.00" stroke="#777" stroke-width="0.8" />
<text x="56.80" y="19.00" font-size="7.8" text-anchor="end" fill="#222222" stroke="#1c1c1c" stroke-width="0.18" >14</text>
<text x="100.70" y="186.50" font-size="7.8" text-anchor="end" fill="#222222" stroke="#1c1c1c" stroke-width="0.18" >10</text>
<text x="100.70" y="182.40" font-size="6.0" text-anchor="start" fill="#222222" stroke="#1c1c1c" stroke-width="0.18" >20</text>
<text x="179.20" y="186.50" font-size="7.8" text-anchor="end" fill="#222222" stroke="#1c1c1c" stroke-width="0.18" >10</text>
<text x="179.20" y="182.40" font-size="6.0" text-anchor="start" fill="#222222" stroke="#1c1c1c" stroke-width="0.18" >25</text>
<text x="257.70" y="186.50" font-size="7.8" text-anchor="end" fill="#222222" stroke="#1c1c1c" stroke-width="0.18" >10</text>
<text x="257.70" y="182.40" font-size="6.0" text-anchor="start" fill="#222222" stroke="#1c1c1c" stroke-width="0.18" >30</text>
<text x="163.40" y="199.00" font-size="8.6" text-anchor="middle" fill="#222222" stroke="#1c1c1c" stroke-width="0.18" >A<tspan font-size="6.0" dy="-3.6">-1</tspan><tspan dy="3.6"> (Pa</tspan><tspan font-size="6.0" dy="-3.6">n</tspan><tspan dy="3.6">-s)</tspan></text>
<text x="0.00" y="0.00" font-size="8.8" text-anchor="middle" fill="#222222" stroke="#1c1c1c" stroke-width="0.18" transform="translate(44.8,88) rotate(-90)">n</text>
<rect x="268.6" y="3.4" width="8.199999999999989" height="168.2" fill="url(#cbA)"/>
<rect x="268.60" y="3.40" width="8.20" height="168.20" fill="none" stroke="#8c8c8c" stroke-width="0.75"/>
<line x1="276.80" y1="8.01" x2="278.40" y2="8.01" stroke="#8c8c8c" stroke-width="0.7" />
<line x1="276.80" y1="20.49" x2="278.40" y2="20.49" stroke="#8c8c8c" stroke-width="0.7" />
<line x1="276.80" y1="36.57" x2="278.40" y2="36.57" stroke="#8c8c8c" stroke-width="0.7" />
<line x1="276.80" y1="59.24" x2="278.40" y2="59.24" stroke="#8c8c8c" stroke-width="0.7" />
<line x1="276.80" y1="97.99" x2="278.40" y2="97.99" stroke="#8c8c8c" stroke-width="0.7" />
<line x1="276.80" y1="103.88" x2="278.40" y2="103.88" stroke="#8c8c8c" stroke-width="0.7" />
<line x1="276.80" y1="110.46" x2="278.40" y2="110.46" stroke="#8c8c8c" stroke-width="0.7" />
<line x1="276.80" y1="117.93" x2="278.40" y2="117.93" stroke="#8c8c8c" stroke-width="0.7" />
<line x1="276.80" y1="126.54" x2="278.40" y2="126.54" stroke="#8c8c8c" stroke-width="0.7" />
<line x1="276.80" y1="136.74" x2="278.40" y2="136.74" stroke="#8c8c8c" stroke-width="0.7" />
<line x1="276.80" y1="149.21" x2="278.40" y2="149.21" stroke="#8c8c8c" stroke-width="0.7" />
<line x1="276.80" y1="165.29" x2="278.40" y2="165.29" stroke="#8c8c8c" stroke-width="0.7" />
<text x="280.70" y="10.41" font-size="6.6" text-anchor="start" fill="#222222" stroke="#1c1c1c" stroke-width="0.18" >5.0</text>
<text x="280.70" y="100.39" font-size="6.6" text-anchor="start" fill="#222222" stroke="#1c1c1c" stroke-width="0.18" >1.0</text>
<text x="280.70" y="139.14" font-size="6.6" text-anchor="start" fill="#222222" stroke="#1c1c1c" stroke-width="0.18" >0.5</text>
<text x="0.00" y="0.00" font-size="6.6" text-anchor="middle" fill="#222222" stroke="#1c1c1c" stroke-width="0.18" transform="translate(299.9,88.0) rotate(-90)">RMSE (cm)</text>
<g clip-path="url(#clipC)">
<g filter="url(#blur1)">
<rect x="401.4" y="1.5" width="207.60000000000002" height="172.9" fill="#f8eae6"/>
<path d="M607.9 173.0L607.9 2.5L408.9 2.5L402.4 17.5L402.4 173.0L607.9 173.0Z" fill="#f6e6e0" fill-rule="evenodd"/>
<path d="M607.9 173.0L607.9 2.5L414.1 2.5L402.4 28.0L402.4 173.0L607.9 173.0Z" fill="#f5e1d9" fill-rule="evenodd"/>
<path d="M607.9 173.0L607.9 2.5L419.2 2.5L402.4 37.6L402.4 173.0L607.9 173.0Z" fill="#f3ddd2" fill-rule="evenodd"/>
<path d="M607.9 173.0L607.9 2.5L424.3 2.5L402.4 46.6L402.4 173.0L607.9 173.0Z" fill="#f1d9ca" fill-rule="evenodd"/>
<path d="M607.9 173.0L607.9 2.5L429.4 2.5L414.2 31.0L402.4 54.9L402.4 173.0L607.9 173.0Z" fill="#efd5c3" fill-rule="evenodd"/>
<path d="M607.9 173.0L607.9 2.5L434.5 2.5L415.9 36.0L402.4 62.7L402.4 173.0L607.9 173.0Z" fill="#edd2bb" fill-rule="evenodd"/>
<path d="M607.9 173.0L607.9 2.5L441.9 2.5L418.4 42.4L402.4 73.2L402.4 173.0L607.9 173.0Z" fill="#ebceb4" fill-rule="evenodd"/>
<path d="M607.9 173.0L607.9 2.5L449.9 2.5L433.9 27.6L420.9 49.0L410.5 67.5L402.4 83.6L402.4 173.0L607.9 173.0Z" fill="#e9cbaf" fill-rule="evenodd"/>
<path d="M607.9 173.0L607.9 2.5L457.9 2.5L438.4 31.3L423.4 54.9L411.4 75.5L402.4 93.4L402.4 173.0L607.9 173.0Z" fill="#e7c8ab" fill-rule="evenodd"/>
<path d="M472.7 173.0L537.4 155.8L607.9 138.5L607.9 2.5L465.5 2.5L442.4 34.9L424.9 61.2L411.9 83.1L402.4 102.1L402.4 172.4L402.9 173.0L472.7 173.0Z" fill="#e4c6a7" fill-rule="evenodd"/>
<path d="M444.8 173.0L449.4 169.6L470.4 159.7L507.4 143.7L537.4 132.0L559.4 124.5L607.9 106.9L607.9 2.5L472.7 2.5L445.9 38.4L426.4 66.7L412.2 90.0L406.8 100.5L402.4 110.1L402.4 170.7L403.2 172.0L403.9 173.0L444.8 173.0Z" fill="#e2c3a3" fill-rule="evenodd"/>
<path d="M443.5 173.0L454.4 164.9L467.4 156.6L482.9 147.7L501.4 138.2L548.4 116.3L607.9 91.2L607.9 2.5L479.9 2.5L449.4 41.6L427.9 71.6L419.4 84.8L412.4 96.8L406.7 108.0L402.4 118.1L402.4 168.8L404.5 172.5L404.9 173.0L443.5 173.0Z" fill="#e0c19e" fill-rule="evenodd"/>
<path d="M442.3 173.0L453.4 164.4L466.4 155.8L481.9 146.7L500.4 136.9L518.9 127.8L547.9 114.3L607.9 88.5L607.9 2.5L483.4 2.5L451.4 42.6L428.4 74.2L419.5 88.0L412.4 100.1L406.7 111.5L402.4 121.9L402.4 168.1L405.2 173.0L442.3 173.0Z" fill="#ddbf9b" fill-rule="evenodd"/>
<path d="M441.1 173.0L451.9 164.2L464.4 155.6L479.9 146.2L498.9 135.8L519.9 125.2L546.4 112.7L607.9 85.6L607.9 2.5L484.8 2.5L451.4 44.1L428.4 75.6L419.6 89.0L412.4 101.4L406.6 113.0L402.4 123.5L402.4 167.6L405.4 173.0L441.1 173.0Z" fill="#dabd99" fill-rule="evenodd"/>
<path d="M439.9 173.0L449.9 164.3L462.4 155.3L478.4 145.3L496.9 134.9L520.4 122.8L545.4 110.7L607.9 82.5L607.9 2.5L486.2 2.5L452.4 44.3L439.4 61.4L428.4 76.9L419.4 90.7L412.3 103.0L406.6 114.5L402.4 125.1L402.4 167.1L405.6 173.0L439.9 173.0Z" fill="#d7bb96" fill-rule="evenodd"/>
<path d="M438.6 173.0L448.9 163.7L460.9 154.7L476.4 144.7L495.4 133.7L518.9 121.3L544.4 108.6L607.9 79.3L607.9 2.5L487.7 2.5L452.9 45.1L439.4 62.8L428.5 78.0L419.4 92.0L412.2 104.5L406.5 116.0L402.4 126.8L402.4 166.5L405.8 173.0L438.6 173.0Z" fill="#d5b993" fill-rule="evenodd"/>
<path d="M437.4 173.0L446.9 163.9L458.9 154.4L474.9 143.7L493.4 132.6L517.4 119.6L542.9 106.7L607.9 76.0L607.9 2.5L489.1 2.5L453.4 45.9L439.9 63.4L428.9 78.7L419.4 93.3L412.1 106.0L406.4 117.7L402.4 128.5L402.4 165.9L406.1 173.0L437.4 173.0Z" fill="#d2b791" fill-rule="evenodd"/>
<path d="M436.2 173.0L445.4 163.6L456.9 154.1L472.4 143.3L490.4 132.1L514.4 118.7L540.9 104.8L571.4 89.7L607.9 72.4L607.9 2.5L490.5 2.5L454.9 45.4L441.4 62.8L429.9 78.6L420.4 92.9L413.0 105.5L407.1 117.5L403.1 128.0L402.4 130.2L402.4 165.2L406.3 173.0L436.2 173.0Z" fill="#cfb68f" fill-rule="evenodd"/>
<path d="M434.9 173.0L443.9 163.2L454.9 153.7L469.4 143.1L486.9 131.9L511.4 117.7L538.4 103.2L569.9 87.1L607.9 68.6L607.9 2.5L492.0 2.5L456.4 44.9L442.4 62.8L431.2 78.0L421.8 92.0L414.0 105.0L408.2 116.5L403.9 127.1L402.4 132.0L402.4 164.4L406.4 172.8L434.9 173.0Z" fill="#cbb48e" fill-rule="evenodd"/>
<path d="M434.1 173.0L441.9 163.7L452.9 153.5L467.4 142.4L486.9 129.5L510.4 115.5L539.4 99.5L577.1 80.0L607.9 64.7L607.9 2.5L493.4 2.5L457.9 44.5L433.9 75.5L422.9 91.5L416.4 102.0L409.9 114.2L404.9 125.9L402.4 134.1L402.4 163.1L404.0 167.5L407.0 173.0L434.1 173.0Z" fill="#c8b38e" fill-rule="evenodd"/>
<path d="M433.5 173.0L441.4 163.1L452.4 152.8L467.4 141.2L484.9 129.4L508.9 114.8L535.9 99.7L568.9 82.2L607.9 62.4L607.9 2.5L497.2 2.5L460.4 45.0L446.4 62.3L434.9 77.4L425.4 90.8L417.4 103.5L411.1 115.0L406.4 125.7L402.4 139.7L402.4 160.1L404.3 166.5L407.3 172.5L407.6 173.0L433.5 173.0Z" fill="#c4b28e" fill-rule="evenodd"/>
<path d="M432.8 173.0L440.4 163.1L451.4 152.5L466.4 140.6L484.4 128.3L507.9 113.8L535.4 98.2L567.9 80.7L607.9 60.1L607.9 2.5L501.0 2.5L463.9 44.5L437.9 76.5L427.9 90.3L419.6 103.0L413.0 114.5L408.1 125.0L404.1 137.5L402.4 148.9L402.5 155.0L403.3 160.5L404.8 166.0L406.8 170.5L408.2 173.0L432.8 173.0Z" fill="#c1b18d" fill-rule="evenodd"/>
<path d="M432.1 173.0L439.9 162.6L450.4 152.1L464.9 140.4L482.4 128.2L506.4 113.1L533.9 97.2L567.4 78.9L607.9 57.7L607.9 2.5L504.8 2.5L467.4 43.9L440.4 76.4L430.4 89.8L421.8 102.5L414.9 114.1L409.8 124.5L405.4 137.2L403.5 148.5L403.8 159.0L405.1 164.5L406.7 169.0L408.8 173.0L432.1 173.0Z" fill="#bdb08d" fill-rule="evenodd"/>
<path d="M431.4 173.0L438.9 162.5L448.9 152.2L463.4 140.2L480.5 128.0L504.4 112.7L532.4 96.2L566.4 77.3L607.9 55.3L607.9 2.5L508.6 2.5L470.4 43.9L442.9 76.3L432.4 89.9L423.9 102.1L416.9 113.5L411.4 124.2L406.7 137.0L404.5 148.0L404.6 158.5L405.6 163.5L407.0 168.0L409.4 173.0L431.4 173.0Z" fill="#b9af8e" fill-rule="evenodd"/>
<path d="M430.7 173.0L437.9 162.5L447.4 152.4L461.4 140.3L478.3 128.0L502.4 112.2L531.4 94.8L565.9 75.4L607.9 52.8L607.9 2.5L512.4 2.5L473.9 43.4L445.9 75.5L435.4 88.8L426.2 101.5L418.9 113.0L413.2 123.5L408.3 136.0L405.7 147.0L405.4 157.5L407.3 167.0L410.0 173.0L430.7 173.0Z" fill="#b6ad90" fill-rule="evenodd"/>
<path d="M430.1 173.0L432.9 168.0L436.4 163.1L445.9 152.5L459.4 140.5L476.0 128.0L500.4 111.7L528.9 94.3L563.9 74.2L607.9 50.2L607.9 2.5L516.2 2.5L476.9 43.4L448.4 75.4L437.4 89.0L428.4 101.1L420.9 112.5L414.9 123.1L409.5 136.0L406.8 147.0L406.3 157.5L408.0 167.0L410.5 173.0L430.1 173.0Z" fill="#b2ac91" fill-rule="evenodd"/>
<path d="M429.7 173.0L432.1 168.5L436.4 162.1L446.4 150.8L460.9 137.9L478.9 124.5L501.9 109.0L531.9 90.5L567.4 69.9L607.9 47.5L607.9 2.5L520.0 2.5L481.2 42.0L451.1 75.0L440.7 87.5L430.7 100.5L423.2 111.5L416.7 122.5L410.8 136.0L407.9 146.5L407.0 156.5L408.3 166.0L411.1 173.0L429.7 173.0Z" fill="#aeab92" fill-rule="evenodd"/>
<path d="M429.3 173.0L431.9 168.0L435.9 161.9L440.7 156.0L446.4 149.9L461.4 136.6L479.4 123.1L502.9 107.2L530.9 89.8L565.4 69.7L607.9 45.9L607.9 2.5L523.1 2.5L482.4 43.3L453.4 74.7L441.9 88.2L432.4 100.4L424.4 111.8L418.2 122.0L412.4 134.5L409.0 145.5L407.8 155.5L408.7 165.0L411.6 173.0L429.3 173.0Z" fill="#aaaa93" fill-rule="evenodd"/>
<path d="M428.8 173.0L431.3 168.0L435.4 161.7L445.4 150.1L459.9 136.9L478.4 122.8L501.9 106.8L530.4 88.9L565.4 68.2L607.9 44.2L607.9 2.5L526.2 2.5L484.9 43.3L455.4 74.6L443.9 87.9L433.9 100.5L425.9 111.6L419.4 122.0L413.4 134.5L410.0 145.0L408.5 155.0L409.1 164.0L410.1 168.0L412.1 173.0L428.8 173.0Z" fill="#a7a994" fill-rule="evenodd"/>
<path d="M428.4 173.0L430.8 168.0L434.9 161.5L444.9 149.7L459.4 136.4L477.9 122.2L500.9 106.3L529.9 87.9L565.4 66.7L607.9 42.5L607.9 2.5L529.2 2.5L487.9 42.7L457.9 74.0L445.9 87.6L435.9 99.9L427.7 111.0L421.0 121.5L414.9 133.5L411.1 144.0L409.3 154.0L409.6 163.0L410.5 167.5L412.7 173.0L428.4 173.0Z" fill="#a3a896" fill-rule="evenodd"/>
<path d="M427.9 173.0L430.2 168.0L434.4 161.2L438.9 155.4L444.4 149.2L458.9 135.8L477.4 121.5L500.9 105.1L529.4 86.8L564.4 65.8L607.9 40.7L607.9 2.5L532.3 2.5L520.9 13.2L483.4 49.6L455.4 78.9L444.4 91.4L434.9 103.2L427.0 114.0L421.0 123.5L415.3 135.0L411.8 145.0L410.1 154.5L410.3 163.5L411.1 167.5L413.2 173.0L427.9 173.0Z" fill="#a0a797" fill-rule="evenodd"/>
<path d="M427.5 173.0L429.4 168.5L433.9 161.0L438.4 155.0L443.9 148.8L458.9 134.8L476.9 120.8L500.4 104.2L528.9 85.8L564.4 64.2L607.9 38.9L607.9 2.5L535.4 2.5L511.9 24.4L478.4 56.9L452.9 83.7L434.4 105.8L427.0 116.0L421.4 124.9L415.7 136.5L412.4 146.0L410.8 155.0L411.0 163.5L411.7 167.5L413.8 173.0L427.5 173.0Z" fill="#9ca698" fill-rule="evenodd"/>
<path d="M427.1 173.0L429.2 168.0L432.9 161.4L437.4 155.2L442.9 148.9L457.9 134.6L475.9 120.4L499.4 103.7L528.4 84.7L563.4 63.2L607.9 37.1L607.9 2.5L538.4 2.5L505.4 33.1L474.9 62.6L451.4 87.4L433.9 108.3L427.3 117.5L422.0 126.0L416.5 137.0L413.3 146.0L411.6 154.5L411.6 163.0L412.4 167.5L414.5 173.0L427.1 173.0Z" fill="#99a59a" fill-rule="evenodd"/>
<path d="M426.7 173.0L428.7 168.0L432.6 161.0L436.9 155.0L442.4 148.5L456.9 134.5L475.4 119.7L498.4 103.1L527.9 83.6L563.9 61.3L607.9 35.2L607.9 2.5L541.5 2.5L499.9 40.6L471.9 67.8L450.4 90.4L433.9 110.2L427.4 119.2L422.8 126.5L417.4 137.4L414.3 146.0L412.5 154.5L412.3 162.5L413.0 167.0L415.2 173.0L426.7 173.0Z" fill="#96a49b" fill-rule="evenodd"/>
<path d="M426.2 173.0L428.3 168.0L432.4 160.5L436.6 154.5L441.9 148.2L456.4 134.1L474.9 119.1L498.4 102.1L527.4 82.8L563.4 60.3L607.9 33.6L607.9 2.5L544.8 2.5L494.9 47.8L469.4 72.5L449.4 93.6L434.4 111.5L428.2 120.0L423.8 127.0L418.5 137.5L415.3 146.0L413.5 154.0L413.1 162.0L413.7 167.0L415.9 173.0L426.2 173.0Z" fill="#92a39d" fill-rule="evenodd"/>
<path d="M425.8 173.0L427.5 168.5L431.8 160.5L436.0 154.5L441.4 148.0L455.9 133.6L474.4 118.6L497.9 101.4L527.4 81.6L562.9 59.2L607.9 32.0L607.9 2.5L548.3 2.5L516.4 30.6L490.9 54.0L466.9 77.2L447.9 97.3L432.9 115.5L427.3 123.5L423.8 129.5L419.0 139.0L415.9 147.3L414.2 155.0L413.9 162.5L414.4 167.0L416.7 173.0L425.8 173.0Z" fill="#8fa29e" fill-rule="evenodd"/>
<path d="M425.4 173.0L426.6 169.5L431.2 160.5L435.4 154.4L440.9 147.6L455.4 133.2L473.9 118.1L497.4 100.7L526.9 80.8L562.4 58.2L607.9 30.5L607.9 2.5L551.7 2.5L515.9 33.7L487.4 59.6L464.9 81.3L447.4 99.8L433.4 116.8L428.3 124.0L424.8 130.0L420.1 139.0L417.0 147.0L415.2 154.5L414.7 161.5L415.2 167.0L417.3 173.0L425.4 173.0Z" fill="#8ca1a0" fill-rule="evenodd"/>
<path d="M425.0 173.0L426.4 168.8L430.6 160.5L434.9 154.1L440.4 147.3L447.4 139.9L455.4 132.3L473.9 117.1L497.4 99.6L526.4 79.9L562.4 56.8L607.9 28.9L607.9 2.5L555.1 2.5L515.4 36.7L484.4 64.6L462.4 85.9L444.9 104.6L431.4 121.5L423.8 134.0L420.1 141.5L417.4 149.0L415.9 156.0L415.6 162.5L416.0 167.0L417.8 173.0L425.0 173.0Z" fill="#89a0a1" fill-rule="evenodd"/>
<path d="M424.7 173.0L426.2 168.5L430.0 160.5L434.3 154.0L439.5 147.5L446.4 140.0L454.4 132.3L472.9 116.9L496.4 99.3L525.4 79.3L561.9 55.7L607.9 27.2L607.9 2.5L558.5 2.5L514.9 39.5L481.9 69.1L460.9 89.4L444.4 107.1L431.9 122.7L424.5 135.0L420.9 142.3L418.4 149.0L416.9 155.5L416.4 162.0L416.6 167.0L418.4 173.0L424.7 173.0Z" fill="#859ea3" fill-rule="evenodd"/>
<path d="M424.3 173.0L425.6 169.0L429.8 160.0L433.9 153.6L438.9 147.2L445.5 140.0L453.7 132.0L472.4 116.4L496.4 98.2L525.4 78.1L561.9 54.3L607.9 25.6L607.9 2.5L561.9 2.5L514.4 42.4L479.4 73.5L459.4 92.8L443.9 109.5L432.3 124.0L425.4 135.6L421.9 142.5L419.4 149.0L417.7 155.5L416.9 162.5L417.1 167.0L419.0 173.0L424.3 173.0Z" fill="#829ca4" fill-rule="evenodd"/>
<path d="M424.1 173.0L425.0 169.5L429.6 159.5L433.8 153.0L438.9 146.5L452.7 132.0L471.4 116.2L494.9 98.2L524.9 77.2L561.4 53.2L607.9 23.9L607.9 2.5L565.4 2.5L514.4 44.7L477.4 77.4L458.4 95.7L443.4 111.8L433.4 124.3L425.7 137.0L422.4 143.5L419.8 150.0L418.2 156.0L417.5 162.0L417.6 167.0L419.6 173.0L424.1 173.0Z" fill="#7f9ba5" fill-rule="evenodd"/>
<path d="M423.7 173.0L424.9 168.7L428.9 160.0L433.0 153.5L438.3 146.5L452.0 132.0L471.4 115.3L495.4 96.8L524.4 76.4L560.9 52.2L607.9 22.4L607.9 2.5L568.3 2.5L513.4 47.5L475.9 80.4L457.9 97.8L443.3 113.5L433.9 125.2L425.9 137.9L422.8 144.0L420.4 150.0L418.8 156.0L418.0 161.5L418.1 167.0L420.3 173.0L423.7 173.0Z" fill="#7b99a6" fill-rule="evenodd"/>
<path d="M423.3 173.0L425.9 165.4L428.7 159.5L432.8 153.0L437.9 146.3L451.3 132.0L470.9 115.0L494.4 96.8L523.9 75.9L560.9 51.3L607.9 21.2L607.9 2.5L570.2 2.5L514.4 47.9L493.4 65.8L475.4 81.9L457.9 98.8L443.9 113.7L434.8 125.0L426.8 137.5L421.4 149.0L419.7 154.5L418.7 160.0L418.6 166.0L419.3 169.0L420.7 173.0L423.3 173.0Z" fill="#7897a7" fill-rule="evenodd"/>
<path d="M422.7 172.0L423.9 170.1L426.3 163.5L429.1 158.0L433.4 151.5L438.8 144.5L450.6 132.0L471.9 113.6L495.4 95.3L524.9 74.4L561.9 49.6L607.9 20.1L607.9 2.5L572.1 2.5L515.9 47.9L494.4 66.1L476.4 82.1L458.9 98.8L445.0 113.5L435.5 125.0L428.1 136.5L422.4 148.0L420.5 153.5L419.5 158.5L419.2 167.0L420.9 171.5L421.9 172.4L422.7 172.0Z" fill="#7495a8" fill-rule="evenodd"/>
<path d="M422.9 170.5L430.4 155.0L439.1 143.5L449.9 132.0L472.9 112.0L496.4 93.8L525.9 72.8L562.4 48.3L607.9 18.9L607.9 2.5L574.0 2.5L517.4 47.8L495.4 66.3L477.4 82.2L460.4 98.3L446.4 112.8L436.6 124.5L429.4 135.5L423.4 147.0L420.2 157.5L419.7 166.5L420.9 170.4L421.9 170.8L422.9 170.5Z" fill="#7193a9" fill-rule="evenodd"/>
<path d="M422.7 169.5L423.9 168.3L427.2 160.5L430.8 154.0L434.9 148.0L439.9 141.9L449.2 132.0L473.4 110.9L496.9 92.7L525.4 72.3L561.9 47.6L607.9 17.7L607.9 2.5L575.9 2.5L518.4 48.2L496.4 66.6L477.9 82.8L460.9 98.7L447.4 112.7L437.8 124.0L430.8 134.5L424.5 146.0L421.2 155.5L420.3 161.0L420.3 166.5L420.9 169.2L421.9 169.7L422.7 169.5Z" fill="#6d90aa" fill-rule="evenodd"/>
<path d="M422.4 168.5L423.9 167.4L427.7 159.0L431.8 152.0L441.9 139.0L449.1 131.5L474.4 109.4L497.9 91.2L526.4 70.7L562.4 46.3L607.9 16.5L607.9 2.5L577.9 2.5L519.9 48.2L497.4 66.8L478.9 82.9L464.9 95.8L452.9 107.7L442.9 118.7L436.3 127.0L427.3 141.5L422.9 151.5L421.4 157.5L420.7 164.5L420.9 167.9L422.4 168.5Z" fill="#698daa" fill-rule="evenodd"/>
<path d="M423.3 167.0L430.2 154.0L437.8 143.5L447.9 132.2L460.9 120.3L484.9 100.3L515.9 77.2L556.4 49.3L607.9 15.3L607.9 2.5L579.8 2.5L519.9 49.4L497.4 67.9L478.9 83.9L464.9 96.8L453.4 108.2L443.4 119.0L437.1 127.0L428.5 140.5L423.9 150.5L422.0 157.5L421.0 164.5L421.4 167.1L422.4 167.3L423.3 167.0Z" fill="#668aab" fill-rule="evenodd"/>
<path d="M423.4 165.0L431.2 152.0L439.1 141.5L447.8 132.0L462.9 118.0L485.9 98.9L516.9 75.9L555.9 48.8L607.9 14.4L607.9 2.5L581.6 2.5L522.4 48.5L500.4 66.4L480.9 83.1L455.4 107.0L445.0 118.0L438.1 126.5L429.4 140.0L424.9 149.4L422.8 156.0L421.6 161.5L421.5 163.5L421.9 165.1L422.4 165.5L423.4 165.0Z" fill="#6287ac" fill-rule="evenodd"/>
<path d="M423.8 162.5L425.9 160.1L430.5 152.5L435.2 146.0L445.1 134.5L461.9 118.6L478.9 104.2L501.4 86.8L529.9 66.3L564.9 42.3L607.9 13.9L607.9 2.5L583.2 2.5L525.4 47.1L483.9 81.3L457.4 105.7L446.9 116.7L439.4 125.5L430.6 139.0L425.6 149.0L423.4 155.0L422.3 159.5L422.4 162.2L422.9 162.8L423.8 162.5Z" fill="#5f84ab" fill-rule="evenodd"/>
<path d="M424.9 159.5L436.0 144.5L447.1 132.0L464.4 116.1L481.4 101.8L504.4 84.2L531.4 64.8L565.9 41.2L607.9 13.3L607.9 2.5L584.8 2.5L527.9 46.1L486.4 80.0L459.4 104.6L448.9 115.3L440.8 124.5L431.0 139.5L426.2 148.5L423.9 154.4L423.1 158.0L423.4 159.7L423.9 160.0L424.9 159.5Z" fill="#5b81ab" fill-rule="evenodd"/>
<path d="M425.2 157.0L427.9 154.7L436.8 143.0L446.8 132.0L465.9 114.4L484.9 98.7L507.4 81.6L534.4 62.3L567.4 39.7L607.9 12.8L607.9 2.5L586.4 2.5L530.4 45.2L489.9 77.9L474.4 91.4L461.4 103.4L450.4 114.4L441.9 124.0L431.7 139.0L427.4 146.6L424.4 154.0L424.4 156.5L425.2 157.0Z" fill="#587daa" fill-rule="evenodd"/>
<path d="M427.4 153.5L446.4 132.0L466.9 113.2L487.4 96.4L509.4 79.8L535.9 60.8L607.9 12.2L607.9 2.5L588.1 2.5L532.9 44.2L492.4 76.6L463.4 102.2L452.4 113.1L443.4 123.0L433.4 137.0L428.4 145.3L426.4 149.5L425.7 152.0L425.9 153.8L427.4 153.5Z" fill="#547aaa" fill-rule="evenodd"/>
<path d="M428.5 150.5L431.9 147.6L446.4 131.5L469.9 110.3L490.9 93.3L512.9 76.8L537.4 59.3L607.9 11.7L607.9 2.5L589.7 2.5L535.4 43.3L495.4 75.0L467.4 99.3L456.4 109.8L447.1 119.5L441.2 126.5L430.9 141.4L428.4 146.0L427.4 149.0L427.5 150.5L428.5 150.5Z" fill="#5177a9" fill-rule="evenodd"/>
<path d="M430.0 147.0L432.9 145.0L445.3 132.0L467.4 112.1L496.4 88.7L517.4 73.1L543.4 54.6L607.9 11.0L607.9 2.5L590.8 2.5L541.4 39.4L502.4 69.8L472.9 94.8L459.9 106.8L450.3 116.5L442.3 125.5L433.4 137.9L430.1 144.0L429.6 146.0L430.0 147.0Z" fill="#4e74a8" fill-rule="evenodd"/>
<path d="M433.5 142.5L469.4 109.9L499.4 85.9L544.4 53.3L607.9 10.3L607.9 2.5L591.5 2.5L542.9 38.6L505.4 67.8L474.4 93.8L461.9 105.3L451.4 115.7L442.9 125.0L436.4 134.0L432.4 141.5L432.4 142.7L433.5 142.5Z" fill="#4b71a7" fill-rule="evenodd"/>
<path d="M436.4 138.0L446.9 129.7L476.4 103.6L504.9 81.2L547.9 50.3L607.9 9.5L607.9 2.5L592.1 2.5L547.9 35.3L512.9 62.2L480.4 88.9L456.4 110.9L447.4 120.2L441.7 127.0L436.4 135.5L435.7 137.5L435.7 138.0L436.4 138.0Z" fill="#496ea5" fill-rule="evenodd"/>
<path d="M441.0 132.5L444.9 130.4L448.9 127.5L477.4 102.3L510.9 76.2L552.9 46.2L607.9 8.7L607.9 2.5L592.8 2.5L552.4 32.3L519.9 57.1L486.4 84.1L460.9 106.8L450.2 117.5L442.7 126.0L439.9 131.0L439.9 132.8L441.0 132.5Z" fill="#466ba4" fill-rule="evenodd"/>
<path d="M443.7 130.0L450.4 125.8L477.4 101.8L510.9 75.7L552.4 45.9L607.9 7.9L607.9 2.5L593.4 2.5L552.9 32.3L520.9 56.7L488.4 82.7L462.6 105.5L451.9 116.0L443.3 125.5L442.4 127.0L441.5 130.0L441.9 130.4L443.7 130.0Z" fill="#4368a3" fill-rule="evenodd"/>
<path d="M445.0 128.0L447.7 127.0L450.6 125.0L466.9 110.2L479.9 99.2L513.4 73.2L554.4 43.8L607.9 7.1L607.9 2.5L594.1 2.5L553.9 32.0L522.9 55.5L487.9 83.5L462.9 105.5L450.9 117.4L445.0 124.0L443.2 127.5L443.9 128.2L445.0 128.0Z" fill="#4166a1" fill-rule="evenodd"/>
<path d="M446.7 126.5L450.8 124.0L473.9 103.3L501.9 80.8L546.9 47.8L607.9 5.6L607.9 2.5L595.5 2.5L555.9 31.4L523.4 55.9L492.4 80.5L466.8 102.5L454.9 113.9L446.9 122.6L444.7 126.0L444.9 126.7L446.7 126.5Z" fill="#3f639f" fill-rule="evenodd"/>
<path d="M447.9 124.5L451.9 121.7L480.9 96.1L507.4 75.2L548.9 44.6L607.9 3.4L607.9 2.5L597.6 2.5L557.4 31.6L525.4 55.5L495.9 78.6L472.9 98.0L452.4 117.5L447.3 123.5L446.9 124.5L447.9 124.5Z" fill="#3d609d" fill-rule="evenodd"/>
</g>
<path d="M590.45 2.50L552.40 30.74L515.40 59.21L488.90 80.73L469.40 97.72L452.50 114.00L442.11 125.50L434.90 135.43L431.40 140.80L429.26 145.00L428.40 148.53L428.90 148.93L429.40 148.77L431.40 147.27L445.60 132.00L466.40 113.17L479.40 102.24L495.90 89.27L518.90 72.24L542.90 55.26L572.90 34.74L607.90 11.38" fill="none" stroke="#151515" stroke-width="0.85" stroke-opacity="0.95"/>
<path d="M580.82 2.50L535.90 37.28L501.90 64.75L475.90 87.16L463.40 98.74L453.06 109.00L445.15 117.50L439.26 124.50L431.90 135.43L428.29 141.50L424.76 149.00L422.57 156.00L421.27 163.50L421.40 165.60L421.88 166.50L422.90 166.47L423.90 165.36L427.99 157.50L432.04 151.00L437.22 144.00L443.22 137.00L447.95 132.00L455.90 124.49L465.90 115.49L475.40 107.49L489.89 96.00L501.86 87.00L530.44 66.50L563.40 44.00L607.90 14.75" fill="none" stroke="#151515" stroke-width="0.85" stroke-opacity="0.95"/>
<path d="M567.60 2.50L523.90 38.19L488.90 68.21L472.40 83.27L461.40 93.90L450.57 105.00L442.07 114.50L435.20 123.00L430.78 129.50L424.82 139.50L420.90 148.06L418.69 155.50L417.80 162.50L417.97 167.00L420.05 173.00M423.87 173.00L424.90 168.99L429.06 160.00L433.12 153.50L438.40 146.60L444.70 139.50L452.21 132.00L471.40 115.51L493.44 98.50L523.91 77.00L559.40 53.50L607.90 22.77" fill="none" stroke="#151515" stroke-width="0.85" stroke-opacity="0.95"/>
<path d="M542.13 2.50L505.90 35.50L487.90 52.49L472.40 67.69L459.90 80.51L448.90 92.47L439.90 102.99L432.40 112.57L426.40 121.12L422.56 127.50L417.40 137.97L414.32 146.50L412.75 154.00L412.40 161.00L413.12 167.00L415.35 173.00M426.58 173.00L428.64 168.00L432.51 161.00L436.90 154.83L442.40 148.35L448.90 141.67L456.90 134.30L475.40 119.47L498.90 102.52L526.90 83.99L563.90 60.99L607.90 34.83" fill="none" stroke="#151515" stroke-width="0.85" stroke-opacity="0.95"/>
<path d="M519.91 2.50L482.56 40.50L457.61 67.50L447.65 79.00L437.09 92.00L429.60 102.00L423.14 111.50L417.20 121.50L413.31 129.50L409.72 139.00L407.84 146.50L407.03 153.50L407.27 160.50L408.59 167.00L411.04 173.00M429.72 173.00L432.09 168.50L436.40 162.11L440.90 156.63L446.40 150.84L452.90 144.75L460.90 137.97L469.20 131.50L478.90 124.50L500.40 110.00L529.47 92.00L567.40 70.00L607.90 47.59" fill="none" stroke="#151515" stroke-width="0.85" stroke-opacity="0.95"/>
<path d="M493.44 2.50L472.40 27.00L455.90 46.98L439.40 68.09L427.90 83.99L417.90 99.48L410.90 112.19L405.40 124.50L402.40 134.17M434.11 173.00L437.40 168.69L441.90 163.66L446.90 158.75L452.90 153.49L467.40 142.40L486.90 129.48L510.40 115.49L539.38 99.50L577.97 79.50L607.90 64.63M402.40 163.08L404.06 167.50L406.98 173.00" fill="none" stroke="#151515" stroke-width="0.85" stroke-opacity="0.95"/>
<path d="M594.23 2.50L563.40 25.00L531.40 48.99L511.39 64.50L490.90 81.00L473.90 95.51L458.82 109.50L449.90 118.49L445.90 123.00L443.74 126.00L443.40 127.61L444.40 127.97L446.40 127.51L450.40 125.09L467.40 109.73L482.90 96.68L499.40 83.67L521.40 67.21L562.90 37.72L607.90 7.01" fill="none" stroke="#d0142c" stroke-width="1.1"/>
<ellipse cx="436.6" cy="137.3" rx="0.8" ry="1.4" transform="rotate(30 436.6 137.3)" fill="#d0142c" stroke="#d0142c" stroke-width="0.8"/>
<path d="M441.6 130.6 L443.2 133.6 L440.2 133.8 Z" fill="none" stroke="#d0142c" stroke-width="1.0" stroke-linejoin="round"/>
<path d="M540.00 42.80 L541.04 45.57 L543.99 45.70 L541.68 47.55 L542.47 50.40 L540.00 48.76 L537.53 50.40 L538.32 47.55 L536.01 45.70 L538.96 45.57Z" fill="#e3141c" stroke="#a01010" stroke-width="0.4" stroke-linejoin="round"/>
<line x1="499" y1="75" x2="601.5" y2="2.5" stroke="#f4f4f4" stroke-width="1.25" stroke-dasharray="2.3 1.8"/>
</g>
<rect x="403.40" y="3.50" width="203.60" height="168.90" fill="none" stroke="#8c8c8c" stroke-width="0.75"/>
<line x1="410.60" y1="3.50" x2="410.60" y2="2.00" stroke="#8c8c8c" stroke-width="0.7" />
<line x1="410.60" y1="172.40" x2="410.60" y2="173.90" stroke="#8c8c8c" stroke-width="0.7" />
<line x1="426.30" y1="3.50" x2="426.30" y2="2.00" stroke="#8c8c8c" stroke-width="0.7" />
<line x1="426.30" y1="172.40" x2="426.30" y2="173.90" stroke="#8c8c8c" stroke-width="0.7" />
<line x1="442.00" y1="3.50" x2="442.00" y2="1.30" stroke="#8c8c8c" stroke-width="0.7" />
<line x1="442.00" y1="172.40" x2="442.00" y2="174.60" stroke="#8c8c8c" stroke-width="0.7" />
<line x1="457.70" y1="3.50" x2="457.70" y2="2.00" stroke="#8c8c8c" stroke-width="0.7" />
<line x1="457.70" y1="172.40" x2="457.70" y2="173.90" stroke="#8c8c8c" stroke-width="0.7" />
<line x1="473.40" y1="3.50" x2="473.40" y2="2.00" stroke="#8c8c8c" stroke-width="0.7" />
<line x1="473.40" y1="172.40" x2="473.40" y2="173.90" stroke="#8c8c8c" stroke-width="0.7" />
<line x1="489.10" y1="3.50" x2="489.10" y2="2.00" stroke="#8c8c8c" stroke-width="0.7" />
<line x1="489.10" y1="172.40" x2="489.10" y2="173.90" stroke="#8c8c8c" stroke-width="0.7" />
<line x1="504.80" y1="3.50" x2="504.80" y2="2.00" stroke="#8c8c8c" stroke-width="0.7" />
<line x1="504.80" y1="172.40" x2="504.80" y2="173.90" stroke="#8c8c8c" stroke-width="0.7" />
<line x1="520.50" y1="3.50" x2="520.50" y2="1.30" stroke="#8c8c8c" stroke-width="0.7" />
<line x1="520.50" y1="172.40" x2="520.50" y2="174.60" stroke="#8c8c8c" stroke-width="0.7" />
<line x1="536.20" y1="3.50" x2="536.20" y2="2.00" stroke="#8c8c8c" stroke-width="0.7" />
<line x1="536.20" y1="172.40" x2="536.20" y2="173.90" stroke="#8c8c8c" stroke-width="0.7" />
<line x1="551.90" y1="3.50" x2="551.90" y2="2.00" stroke="#8c8c8c" stroke-width="0.7" />
<line x1="551.90" y1="172.40" x2="551.90" y2="173.90" stroke="#8c8c8c" stroke-width="0.7" />
<line x1="567.60" y1="3.50" x2="567.60" y2="2.00" stroke="#8c8c8c" stroke-width="0.7" />
<line x1="567.60" y1="172.40" x2="567.60" y2="173.90" stroke="#8c8c8c" stroke-width="0.7" />
<line x1="583.30" y1="3.50" x2="583.30" y2="2.00" stroke="#8c8c8c" stroke-width="0.7" />
<line x1="583.30" y1="172.40" x2="583.30" y2="173.90" stroke="#8c8c8c" stroke-width="0.7" />
<line x1="599.00" y1="3.50" x2="599.00" y2="1.30" stroke="#8c8c8c" stroke-width="0.7" />
<line x1="599.00" y1="172.40" x2="599.00" y2="174.60" stroke="#8c8c8c" stroke-width="0.7" />
<line x1="403.40" y1="160.00" x2="401.60" y2="160.00" stroke="#777" stroke-width="0.8" />
<line x1="607.00" y1="160.00" x2="608.80" y2="160.00" stroke="#777" stroke-width="0.8" />
<text x="399.20" y="163.00" font-size="7.8" text-anchor="end" fill="#222222" stroke="#1c1c1c" stroke-width="0.18" >2</text>
<line x1="403.40" y1="136.00" x2="401.60" y2="136.00" stroke="#777" stroke-width="0.8" />
<line x1="607.00" y1="136.00" x2="608.80" y2="136.00" stroke="#777" stroke-width="0.8" />
<text x="399.20" y="139.00" font-size="7.8" text-anchor="end" fill="#222222" stroke="#1c1c1c" stroke-width="0.18" >4</text>
<line x1="403.40" y1="112.00" x2="401.60" y2="112.00" stroke="#777" stroke-width="0.8" />
<line x1="607.00" y1="112.00" x2="608.80" y2="112.00" stroke="#777" stroke-width="0.8" />
<text x="399.20" y="115.00" font-size="7.8" text-anchor="end" fill="#222222" stroke="#1c1c1c" stroke-width="0.18" >6</text>
<line x1="403.40" y1="88.00" x2="401.60" y2="88.00" stroke="#777" stroke-width="0.8" />
<line x1="607.00" y1="88.00" x2="608.80" y2="88.00" stroke="#777" stroke-width="0.8" />
<text x="399.20" y="91.00" font-size="7.8" text-anchor="end" fill="#222222" stroke="#1c1c1c" stroke-width="0.18" >8</text>
<line x1="403.40" y1="64.00" x2="401.60" y2="64.00" stroke="#777" stroke-width="0.8" />
<line x1="607.00" y1="64.00" x2="608.80" y2="64.00" stroke="#777" stroke-width="0.8" />
<text x="399.20" y="67.00" font-size="7.8" text-anchor="end" fill="#222222" stroke="#1c1c1c" stroke-width="0.18" >10</text>
<line x1="403.40" y1="40.00" x2="401.60" y2="40.00" stroke="#777" stroke-width="0.8" />
<line x1="607.00" y1="40.00" x2="608.80" y2="40.00" stroke="#777" stroke-width="0.8" />
<text x="399.20" y="43.00" font-size="7.8" text-anchor="end" fill="#222222" stroke="#1c1c1c" stroke-width="0.18" >12</text>
<line x1="403.40" y1="16.00" x2="401.60" y2="16.00" stroke="#777" stroke-width="0.8" />
<line x1="607.00" y1="16.00" x2="608.80" y2="16.00" stroke="#777" stroke-width="0.8" />
<text x="399.20" y="19.00" font-size="7.8" text-anchor="end" fill="#222222" stroke="#1c1c1c" stroke-width="0.18" >14</text>
<text x="443.30" y="186.50" font-size="7.8" text-anchor="end" fill="#222222" stroke="#1c1c1c" stroke-width="0.18" >10</text>
<text x="443.30" y="182.40" font-size="6.0" text-anchor="start" fill="#222222" stroke="#1c1c1c" stroke-width="0.18" >20</text>
<text x="521.80" y="186.50" font-size="7.8" text-anchor="end" fill="#222222" stroke="#1c1c1c" stroke-width="0.18" >10</text>
<text x="521.80" y="182.40" font-size="6.0" text-anchor="start" fill="#222222" stroke="#1c1c1c" stroke-width="0.18" >25</text>
<text x="600.30" y="186.50" font-size="7.8" text-anchor="end" fill="#222222" stroke="#1c1c1c" stroke-width="0.18" >10</text>
<text x="600.30" y="182.40" font-size="6.0" text-anchor="start" fill="#222222" stroke="#1c1c1c" stroke-width="0.18" >30</text>
<text x="505.70" y="199.00" font-size="8.6" text-anchor="middle" fill="#222222" stroke="#1c1c1c" stroke-width="0.18" >A<tspan font-size="6.0" dy="-3.6">-1</tspan><tspan dy="3.6"> (Pa</tspan><tspan font-size="6.0" dy="-3.6">n</tspan><tspan dy="3.6">-s)</tspan></text>
<text x="0.00" y="0.00" font-size="8.8" text-anchor="middle" fill="#222222" stroke="#1c1c1c" stroke-width="0.18" transform="translate(387.2,88) rotate(-90)">n</text>
<rect x="611" y="3.4" width="8.600000000000023" height="168.2" fill="url(#cbC)"/>
<rect x="611.00" y="3.40" width="8.60" height="168.20" fill="none" stroke="#8c8c8c" stroke-width="0.75"/>
<line x1="619.60" y1="5.70" x2="621.20" y2="5.70" stroke="#8c8c8c" stroke-width="0.7" />
<line x1="619.60" y1="15.99" x2="621.20" y2="15.99" stroke="#8c8c8c" stroke-width="0.7" />
<line x1="619.60" y1="28.58" x2="621.20" y2="28.58" stroke="#8c8c8c" stroke-width="0.7" />
<line x1="619.60" y1="44.81" x2="621.20" y2="44.81" stroke="#8c8c8c" stroke-width="0.7" />
<line x1="619.60" y1="67.68" x2="621.20" y2="67.68" stroke="#8c8c8c" stroke-width="0.7" />
<line x1="619.60" y1="106.79" x2="621.20" y2="106.79" stroke="#8c8c8c" stroke-width="0.7" />
<line x1="619.60" y1="112.73" x2="621.20" y2="112.73" stroke="#8c8c8c" stroke-width="0.7" />
<line x1="619.60" y1="119.38" x2="621.20" y2="119.38" stroke="#8c8c8c" stroke-width="0.7" />
<line x1="619.60" y1="126.91" x2="621.20" y2="126.91" stroke="#8c8c8c" stroke-width="0.7" />
<line x1="619.60" y1="135.61" x2="621.20" y2="135.61" stroke="#8c8c8c" stroke-width="0.7" />
<line x1="619.60" y1="145.89" x2="621.20" y2="145.89" stroke="#8c8c8c" stroke-width="0.7" />
<line x1="619.60" y1="158.48" x2="621.20" y2="158.48" stroke="#8c8c8c" stroke-width="0.7" />
<text x="623.50" y="18.39" font-size="6.6" text-anchor="start" fill="#222222" stroke="#1c1c1c" stroke-width="0.18" >5.0</text>
<text x="623.50" y="109.19" font-size="6.6" text-anchor="start" fill="#222222" stroke="#1c1c1c" stroke-width="0.18" >1.0</text>
<text x="623.50" y="148.29" font-size="6.6" text-anchor="start" fill="#222222" stroke="#1c1c1c" stroke-width="0.18" >0.5</text>
<text x="0.00" y="0.00" font-size="6.6" text-anchor="middle" fill="#222222" stroke="#1c1c1c" stroke-width="0.18" transform="translate(642.7,88.0) rotate(-90)">RMSE (cm)</text>
<ellipse cx="79" cy="19" rx="9.8" ry="5.4" fill="none" stroke="#d0142c" stroke-width="1.1"/>
<text x="95.80" y="21.40" font-size="7.45" text-anchor="start" fill="#222222" stroke="#1c1c1c" stroke-width="0.18" >minima + 10%</text>
<path d="M78.40 32.50 L79.46 35.34 L82.49 35.47 L80.12 37.36 L80.93 40.28 L78.40 38.61 L75.87 40.28 L76.68 37.36 L74.31 35.47 L77.34 35.34Z" fill="#c8281e" stroke="#c8281e" stroke-width="0.4" stroke-linejoin="round"/>
<text x="95.80" y="41.00" font-size="7.45" text-anchor="start" fill="#222222" stroke="#1c1c1c" stroke-width="0.18" >best-fit</text>
<text x="228.00" y="144.30" font-size="7.3" text-anchor="middle" fill="#222222" stroke="#1c1c1c" stroke-width="0.18" >M<tspan font-size="4.9" dy="2.3">ratio</tspan><tspan dy="-2.3"> = 0.9:0.1</tspan></text>
<text x="228.00" y="153.30" font-size="7.3" text-anchor="middle" fill="#222222" stroke="#1c1c1c" stroke-width="0.18" >ΔT<tspan font-size="4.9" dy="2.3">events</tspan><tspan dy="-2.3"> = 5 years</tspan></text>
<text x="228.00" y="162.30" font-size="7.3" text-anchor="middle" fill="#222222" stroke="#1c1c1c" stroke-width="0.18" >T<tspan font-size="4.9" dy="2.3">eq</tspan><tspan dy="-2.3"> = 200 years</tspan></text>
<text x="571.00" y="144.30" font-size="7.3" text-anchor="middle" fill="#222222" stroke="#1c1c1c" stroke-width="0.18" >M<tspan font-size="4.9" dy="2.3">ratio</tspan><tspan dy="-2.3"> = 0.2:0.8</tspan></text>
<text x="571.00" y="153.30" font-size="7.3" text-anchor="middle" fill="#222222" stroke="#1c1c1c" stroke-width="0.18" >ΔT<tspan font-size="4.9" dy="2.3">events</tspan><tspan dy="-2.3"> = 10 years</tspan></text>
<text x="571.00" y="162.30" font-size="7.3" text-anchor="middle" fill="#222222" stroke="#1c1c1c" stroke-width="0.18" >T<tspan font-size="4.9" dy="2.3">eq</tspan><tspan dy="-2.3"> = 200 years</tspan></text>
<text x="0.00" y="0.00" font-size="7.4" text-anchor="middle" fill="#f4f4f4" transform="translate(213.8,43.2) rotate(-36)">constant A<tspan font-size="4.59" dy="-2.66">1/n</tspan></text>
<text x="0.00" y="0.00" font-size="6.4" text-anchor="middle" fill="#f4f4f4" transform="translate(568.6,37.8) rotate(-34)">constant A<tspan font-size="3.97" dy="-2.30">1/n</tspan></text>
<text x="0.80" y="8.30" font-size="8.3" text-anchor="start" fill="#222222" stroke="#1c1c1c" stroke-width="0.18" font-weight="bold">(A)</text>
<text x="351.20" y="8.30" font-size="8.3" text-anchor="start" fill="#222222" stroke="#1c1c1c" stroke-width="0.18" font-weight="bold">(C)</text>
<text x="0.80" y="225.40" font-size="8.3" text-anchor="start" fill="#222222" stroke="#1c1c1c" stroke-width="0.18" font-weight="bold">(B)</text>
<text x="351.20" y="225.40" font-size="8.3" text-anchor="start" fill="#222222" stroke="#1c1c1c" stroke-width="0.18" font-weight="bold">(D)</text>
<rect x="90.38" y="218.45" width="29.85" height="89.90" fill="#dedede"/>
<line x1="90.38" y1="218.45" x2="90.38" y2="308.35" stroke="#555" stroke-width="0.65" stroke-dasharray="1.3 1.1"/>
<line x1="120.22" y1="218.45" x2="120.22" y2="308.35" stroke="#555" stroke-width="0.65" stroke-dasharray="1.3 1.1"/>
<g clip-path="url(#clipB1)">
<path d="M45.6 274.1 53.9 276.1 65.2 279.6 71.2 281.8 75.7 284.0 77.2 284.8 78.7 286.0 80.2 287.5 84.7 292.7 90.7 298.3 95.9 302.9 97.4 303.8 98.2 303.9 98.9 303.2 99.7 301.6 100.4 299.3 101.9 293.7 102.7 289.5 104.2 277.6 108.7 238.2 109.5 233.1 110.2 229.8 111.0 227.2 111.7 225.0 112.5 223.6 113.2 223.1 114.0 223.4 114.7 224.0 117.7 227.7 123.0 233.4 125.2 235.7 126.7 237.0 129.7 239.2 134.2 242.0 140.2 244.9 147.0 247.5 156.7 250.4 161.2 251.5 165.0 252.3" fill="none" stroke="#8fa6d6" stroke-width="0.9" stroke-linejoin="round" stroke-linecap="round" stroke-opacity="0.8"/>
<path d="M45.6 274.3 53.9 276.4 65.2 279.9 71.2 282.1 75.7 284.4 77.2 285.3 78.7 286.5 80.2 288.0 84.7 293.2 90.7 299.0 95.9 303.6 97.4 304.6 98.2 304.7 98.9 304.0 99.7 302.3 100.4 300.0 101.9 294.3 102.7 290.1 104.2 277.9 108.7 237.7 109.5 232.5 110.2 229.2 111.0 226.5 111.7 224.3 112.5 222.8 113.2 222.4 114.0 222.6 114.7 223.2 117.7 227.0 123.0 232.9 125.2 235.2 126.7 236.5 129.7 238.8 134.2 241.6 140.2 244.5 147.0 247.2 156.7 250.2 161.2 251.3 165.0 252.1" fill="none" stroke="#8fa6d6" stroke-width="0.9" stroke-linejoin="round" stroke-linecap="round" stroke-opacity="0.8"/>
<path d="M45.6 274.5 53.9 276.6 65.2 280.2 71.2 282.5 75.7 284.8 77.2 285.7 78.7 286.9 80.2 288.5 84.7 293.8 90.7 299.7 95.9 304.4 97.4 305.3 98.2 305.5 98.9 304.7 99.7 303.1 100.4 300.7 101.9 294.9 102.7 290.6 104.2 278.1 108.7 237.3 109.5 231.9 110.2 228.5 111.0 225.8 111.7 223.6 112.5 222.0 113.2 221.6 114.0 221.8 114.7 222.5 117.7 226.3 123.0 232.3 125.2 234.7 126.7 236.0 129.7 238.3 134.2 241.2 140.2 244.2 143.2 245.5 147.0 246.9 156.7 249.9 161.2 251.1 165.0 251.9" fill="none" stroke="#8fa6d6" stroke-width="0.9" stroke-linejoin="round" stroke-linecap="round" stroke-opacity="0.8"/>
<path d="M45.6 273.7 53.9 275.6 65.2 278.9 71.2 281.0 75.7 283.2 77.2 284.0 78.7 285.1 80.2 286.6 84.7 291.5 90.7 297.0 95.9 301.3 97.4 302.2 98.2 302.3 98.9 301.6 99.7 300.1 100.4 297.9 101.9 292.5 102.7 288.5 104.2 277.0 108.7 239.2 109.5 234.3 110.2 231.1 111.0 228.6 111.7 226.5 112.5 225.1 113.2 224.7 114.0 224.9 114.7 225.5 117.7 229.1 125.2 236.8 126.7 238.0 129.7 240.2 134.2 242.8 140.2 245.6 147.0 248.1 156.7 250.9 161.2 252.0 165.0 252.7" fill="none" stroke="#a9c46e" stroke-width="0.8" stroke-linejoin="round" stroke-linecap="round" stroke-opacity="0.8"/>
<path d="M45.6 273.8 53.9 275.7 65.2 279.1 71.2 281.2 75.7 283.4 77.2 284.2 78.7 285.4 80.2 286.8 84.7 291.8 90.7 297.3 95.9 301.7 97.4 302.6 98.2 302.7 98.9 302.0 99.7 300.5 100.4 298.3 101.9 292.8 102.7 288.8 104.2 277.2 108.7 239.0 109.5 234.0 110.2 230.8 111.0 228.3 111.7 226.2 112.5 224.7 113.2 224.3 114.0 224.6 114.7 225.1 117.7 228.8 125.2 236.5 126.7 237.8 129.7 239.9 134.2 242.6 140.2 245.4 147.0 247.9 156.7 250.8 161.2 251.9 165.0 252.6" fill="none" stroke="#a9c46e" stroke-width="0.8" stroke-linejoin="round" stroke-linecap="round" stroke-opacity="0.8"/>
<path d="M45.6 273.9 53.9 275.9 65.2 279.2 71.2 281.4 75.7 283.6 77.2 284.4 78.7 285.6 80.2 287.1 84.7 292.1 90.7 297.7 95.9 302.1 97.4 303.0 98.2 303.1 98.9 302.4 99.7 300.8 100.4 298.6 101.9 293.1 102.7 289.0 104.2 277.3 108.7 238.7 109.5 233.7 110.2 230.5 111.0 227.9 111.7 225.8 112.5 224.3 113.2 223.9 114.0 224.2 114.7 224.7 117.7 228.4 125.2 236.3 126.7 237.5 129.7 239.7 134.2 242.4 140.2 245.2 147.0 247.8 156.7 250.7 161.2 251.8 165.0 252.5" fill="none" stroke="#a9c46e" stroke-width="0.8" stroke-linejoin="round" stroke-linecap="round" stroke-opacity="0.8"/>
<path d="M45.6 271.1 49.4 271.9 53.2 272.9 56.9 274.0 60.7 275.3 70.4 279.5 73.4 281.1 75.7 282.6 77.2 283.9 78.7 285.5 83.2 290.7 86.9 295.9 90.7 302.6 92.9 305.9 93.7 306.9 94.4 307.6 95.2 307.9 95.9 307.7 96.7 307.2 97.4 306.5 98.2 305.7 98.9 304.2 99.7 301.9 101.2 295.8 101.9 291.5 103.4 280.6 104.2 274.2 105.7 258.1 106.5 251.9 108.0 241.5 108.7 237.1 110.2 229.8 111.0 226.6 111.7 224.2 113.2 221.3 114.0 220.1 114.7 219.2 115.5 218.8 116.2 218.8 117.0 219.3 117.7 220.1 120.0 223.1 126.0 233.7 128.2 237.2 131.2 240.7 132.7 242.2 134.2 243.5 136.5 244.9 138.7 246.1 145.5 249.0 155.2 252.3 165.0 255.2" fill="none" stroke="#111111" stroke-width="1.35" stroke-linejoin="round" stroke-linecap="round" stroke-opacity="1"/>
</g>
<rect x="45.60" y="218.45" width="119.40" height="89.90" fill="none" stroke="#8c8c8c" stroke-width="0.75"/>
<text x="45.60" y="319.20" font-size="7.8" text-anchor="middle" fill="#222222" stroke="#1c1c1c" stroke-width="0.18" >-200</text>
<line x1="75.45" y1="218.45" x2="75.45" y2="216.85" stroke="#8c8c8c" stroke-width="0.7" />
<line x1="75.45" y1="308.35" x2="75.45" y2="309.95" stroke="#8c8c8c" stroke-width="0.7" />
<text x="75.45" y="319.20" font-size="7.8" text-anchor="middle" fill="#222222" stroke="#1c1c1c" stroke-width="0.18" >-100</text>
<line x1="105.30" y1="218.45" x2="105.30" y2="216.85" stroke="#8c8c8c" stroke-width="0.7" />
<line x1="105.30" y1="308.35" x2="105.30" y2="309.95" stroke="#8c8c8c" stroke-width="0.7" />
<text x="105.30" y="319.20" font-size="7.8" text-anchor="middle" fill="#222222" stroke="#1c1c1c" stroke-width="0.18" >0</text>
<line x1="135.15" y1="218.45" x2="135.15" y2="216.85" stroke="#8c8c8c" stroke-width="0.7" />
<line x1="135.15" y1="308.35" x2="135.15" y2="309.95" stroke="#8c8c8c" stroke-width="0.7" />
<text x="135.15" y="319.20" font-size="7.8" text-anchor="middle" fill="#222222" stroke="#1c1c1c" stroke-width="0.18" >100</text>
<text x="165.00" y="319.20" font-size="7.8" text-anchor="middle" fill="#222222" stroke="#1c1c1c" stroke-width="0.18" >200</text>
<line x1="45.60" y1="225.70" x2="44.00" y2="225.70" stroke="#8c8c8c" stroke-width="0.7" />
<line x1="165.00" y1="225.70" x2="166.60" y2="225.70" stroke="#8c8c8c" stroke-width="0.7" />
<text x="42.10" y="229.00" font-size="7.8" text-anchor="end" fill="#222222" stroke="#1c1c1c" stroke-width="0.18" >20</text>
<line x1="45.60" y1="244.45" x2="44.00" y2="244.45" stroke="#8c8c8c" stroke-width="0.7" />
<line x1="165.00" y1="244.45" x2="166.60" y2="244.45" stroke="#8c8c8c" stroke-width="0.7" />
<text x="42.10" y="247.75" font-size="7.8" text-anchor="end" fill="#222222" stroke="#1c1c1c" stroke-width="0.18" >10</text>
<line x1="45.60" y1="263.20" x2="44.00" y2="263.20" stroke="#8c8c8c" stroke-width="0.7" />
<line x1="165.00" y1="263.20" x2="166.60" y2="263.20" stroke="#8c8c8c" stroke-width="0.7" />
<text x="42.10" y="266.50" font-size="7.8" text-anchor="end" fill="#222222" stroke="#1c1c1c" stroke-width="0.18" >0</text>
<line x1="45.60" y1="281.95" x2="44.00" y2="281.95" stroke="#8c8c8c" stroke-width="0.7" />
<line x1="165.00" y1="281.95" x2="166.60" y2="281.95" stroke="#8c8c8c" stroke-width="0.7" />
<text x="42.10" y="285.25" font-size="7.8" text-anchor="end" fill="#222222" stroke="#1c1c1c" stroke-width="0.18" >-10</text>
<line x1="45.60" y1="300.70" x2="44.00" y2="300.70" stroke="#8c8c8c" stroke-width="0.7" />
<line x1="165.00" y1="300.70" x2="166.60" y2="300.70" stroke="#8c8c8c" stroke-width="0.7" />
<text x="42.10" y="304.00" font-size="7.8" text-anchor="end" fill="#222222" stroke="#1c1c1c" stroke-width="0.18" >-20</text>
<text x="105.30" y="329.80" font-size="8.5" text-anchor="middle" fill="#222222" stroke="#1c1c1c" stroke-width="0.18" >x (km)</text>
<text x="0.00" y="0.00" font-size="8.8" text-anchor="middle" fill="#222222" stroke="#1c1c1c" stroke-width="0.18" transform="translate(27.6,263.9) rotate(-90)">Space function</text>
<text x="48.90" y="226.85" font-size="6.6" text-anchor="start" fill="#222222" stroke="#1c1c1c" stroke-width="0.18" >Earthquake 1</text>
<rect x="246.90" y="218.45" width="29.80" height="89.90" fill="#dedede"/>
<line x1="246.90" y1="218.45" x2="246.90" y2="308.35" stroke="#555" stroke-width="0.65" stroke-dasharray="1.3 1.1"/>
<line x1="276.70" y1="218.45" x2="276.70" y2="308.35" stroke="#555" stroke-width="0.65" stroke-dasharray="1.3 1.1"/>
<g clip-path="url(#clipB2)">
<path d="M202.2 270.8 208.2 271.7 214.9 273.1 222.4 275.1 228.4 277.0 233.7 279.1 237.4 280.8 244.9 285.6 250.9 289.2 252.4 289.8 253.1 289.9 253.9 289.9 254.6 289.6 255.4 289.0 256.9 287.0 257.6 285.7 258.4 283.8 259.1 280.4 259.9 275.9 262.1 260.5 262.9 256.4 265.1 245.4 265.9 242.4 266.6 240.3 268.1 238.1 269.6 236.6 270.4 236.2 271.1 236.0 271.9 236.1 273.4 236.9 277.1 240.3 284.6 246.1 286.8 247.4 289.8 248.7 295.8 250.7 303.3 252.5 313.1 254.3 321.3 255.4" fill="none" stroke="#8fa6d6" stroke-width="0.9" stroke-linejoin="round" stroke-linecap="round" stroke-opacity="0.7"/>
<path d="M202.2 270.6 208.2 271.5 214.9 273.0 222.4 274.8 228.4 276.8 233.7 278.8 237.4 280.5 250.9 288.7 252.4 289.3 253.1 289.4 253.9 289.4 254.6 289.1 255.4 288.5 256.9 286.5 257.6 285.3 258.4 283.4 259.1 280.1 259.9 275.7 262.1 260.6 262.9 256.5 265.1 245.8 265.9 242.8 266.6 240.7 268.1 238.6 269.6 237.2 270.4 236.7 271.1 236.6 271.9 236.7 273.4 237.5 277.1 240.8 284.6 246.4 286.8 247.8 289.8 249.0 295.8 250.9 303.3 252.7 313.1 254.5 321.3 255.6" fill="none" stroke="#a9c46e" stroke-width="0.8" stroke-linejoin="round" stroke-linecap="round" stroke-opacity="0.8"/>
<path d="M202.2 270.7 208.2 271.6 214.9 273.0 222.4 275.0 228.4 276.9 233.7 278.9 237.4 280.6 244.9 285.3 250.9 288.9 252.4 289.5 253.1 289.7 253.9 289.7 254.6 289.4 255.4 288.7 256.9 286.7 257.6 285.5 258.4 283.6 259.1 280.3 259.9 275.8 262.1 260.5 262.9 256.4 265.1 245.6 265.9 242.6 266.6 240.5 268.1 238.4 269.6 236.9 270.4 236.5 271.1 236.3 271.9 236.4 273.4 237.2 277.1 240.6 284.6 246.3 286.8 247.6 289.8 248.9 295.8 250.8 303.3 252.6 313.1 254.4 321.3 255.5" fill="none" stroke="#a9c46e" stroke-width="0.8" stroke-linejoin="round" stroke-linecap="round" stroke-opacity="0.8"/>
<path d="M202.2 270.8 208.2 271.8 214.9 273.2 222.4 275.2 228.4 277.2 233.7 279.2 237.4 281.0 244.9 285.8 250.9 289.4 252.4 290.0 253.1 290.2 253.9 290.2 254.6 289.9 255.4 289.2 256.9 287.2 257.6 285.9 258.4 284.0 259.1 280.6 259.9 276.0 262.1 260.5 262.9 256.3 265.1 245.2 265.9 242.2 266.6 240.0 268.1 237.9 269.6 236.4 270.4 235.9 271.1 235.8 271.9 235.9 273.4 236.7 277.1 240.1 284.6 245.9 286.8 247.3 289.8 248.6 295.8 250.5 303.3 252.3 313.1 254.2 321.3 255.3" fill="none" stroke="#a9c46e" stroke-width="0.8" stroke-linejoin="round" stroke-linecap="round" stroke-opacity="0.8"/>
<path d="M202.2 270.3 219.4 274.2 223.2 275.1 226.2 276.0 228.4 276.9 232.9 279.0 235.9 280.9 238.2 282.7 240.4 284.9 244.9 290.0 248.6 294.6 251.6 297.6 252.4 298.1 253.1 298.2 253.9 298.0 254.6 297.4 256.1 295.7 256.9 294.1 257.6 291.2 259.1 283.3 263.6 250.0 264.4 245.1 265.1 241.3 266.6 235.0 267.4 232.6 268.1 231.1 268.9 230.1 269.6 229.2 270.4 228.7 271.1 228.4 271.9 228.5 272.6 229.0 274.1 230.3 274.9 231.1 275.6 232.2 278.6 237.0 280.9 239.9 282.3 241.7 283.8 243.1 285.3 244.3 289.1 246.7 291.3 247.8 294.3 249.1 300.3 251.1 311.6 254.2 316.8 255.4 321.3 256.3" fill="none" stroke="#111111" stroke-width="1.35" stroke-linejoin="round" stroke-linecap="round" stroke-opacity="1"/>
</g>
<rect x="202.20" y="218.45" width="119.20" height="89.90" fill="none" stroke="#8c8c8c" stroke-width="0.75"/>
<text x="202.20" y="319.20" font-size="7.8" text-anchor="middle" fill="#222222" stroke="#1c1c1c" stroke-width="0.18" >-200</text>
<line x1="232.00" y1="218.45" x2="232.00" y2="216.85" stroke="#8c8c8c" stroke-width="0.7" />
<line x1="232.00" y1="308.35" x2="232.00" y2="309.95" stroke="#8c8c8c" stroke-width="0.7" />
<text x="232.00" y="319.20" font-size="7.8" text-anchor="middle" fill="#222222" stroke="#1c1c1c" stroke-width="0.18" >-100</text>
<line x1="261.80" y1="218.45" x2="261.80" y2="216.85" stroke="#8c8c8c" stroke-width="0.7" />
<line x1="261.80" y1="308.35" x2="261.80" y2="309.95" stroke="#8c8c8c" stroke-width="0.7" />
<text x="261.80" y="319.20" font-size="7.8" text-anchor="middle" fill="#222222" stroke="#1c1c1c" stroke-width="0.18" >0</text>
<line x1="291.60" y1="218.45" x2="291.60" y2="216.85" stroke="#8c8c8c" stroke-width="0.7" />
<line x1="291.60" y1="308.35" x2="291.60" y2="309.95" stroke="#8c8c8c" stroke-width="0.7" />
<text x="291.60" y="319.20" font-size="7.8" text-anchor="middle" fill="#222222" stroke="#1c1c1c" stroke-width="0.18" >100</text>
<text x="321.40" y="319.20" font-size="7.8" text-anchor="middle" fill="#222222" stroke="#1c1c1c" stroke-width="0.18" >200</text>
<line x1="202.20" y1="226.00" x2="200.60" y2="226.00" stroke="#8c8c8c" stroke-width="0.7" />
<line x1="321.40" y1="226.00" x2="323.00" y2="226.00" stroke="#8c8c8c" stroke-width="0.7" />
<text x="198.70" y="229.30" font-size="7.8" text-anchor="end" fill="#222222" stroke="#1c1c1c" stroke-width="0.18" >20</text>
<line x1="202.20" y1="244.80" x2="200.60" y2="244.80" stroke="#8c8c8c" stroke-width="0.7" />
<line x1="321.40" y1="244.80" x2="323.00" y2="244.80" stroke="#8c8c8c" stroke-width="0.7" />
<text x="198.70" y="248.10" font-size="7.8" text-anchor="end" fill="#222222" stroke="#1c1c1c" stroke-width="0.18" >10</text>
<line x1="202.20" y1="263.60" x2="200.60" y2="263.60" stroke="#8c8c8c" stroke-width="0.7" />
<line x1="321.40" y1="263.60" x2="323.00" y2="263.60" stroke="#8c8c8c" stroke-width="0.7" />
<text x="198.70" y="266.90" font-size="7.8" text-anchor="end" fill="#222222" stroke="#1c1c1c" stroke-width="0.18" >0</text>
<line x1="202.20" y1="282.40" x2="200.60" y2="282.40" stroke="#8c8c8c" stroke-width="0.7" />
<line x1="321.40" y1="282.40" x2="323.00" y2="282.40" stroke="#8c8c8c" stroke-width="0.7" />
<text x="198.70" y="285.70" font-size="7.8" text-anchor="end" fill="#222222" stroke="#1c1c1c" stroke-width="0.18" >-10</text>
<line x1="202.20" y1="301.20" x2="200.60" y2="301.20" stroke="#8c8c8c" stroke-width="0.7" />
<line x1="321.40" y1="301.20" x2="323.00" y2="301.20" stroke="#8c8c8c" stroke-width="0.7" />
<text x="198.70" y="304.50" font-size="7.8" text-anchor="end" fill="#222222" stroke="#1c1c1c" stroke-width="0.18" >-20</text>
<text x="261.80" y="329.80" font-size="8.5" text-anchor="middle" fill="#222222" stroke="#1c1c1c" stroke-width="0.18" >x (km)</text>
<text x="0.00" y="0.00" font-size="8.8" text-anchor="middle" fill="#222222" stroke="#1c1c1c" stroke-width="0.18" transform="translate(184.1,263.9) rotate(-90)">Space function</text>
<text x="205.50" y="226.85" font-size="6.6" text-anchor="start" fill="#222222" stroke="#1c1c1c" stroke-width="0.18" >Earthquake 2</text>
<rect x="446.84" y="218.40" width="29.62" height="89.80" fill="#dedede"/>
<line x1="446.84" y1="218.40" x2="446.84" y2="308.20" stroke="#555" stroke-width="0.65" stroke-dasharray="1.3 1.1"/>
<line x1="476.46" y1="218.40" x2="476.46" y2="308.20" stroke="#555" stroke-width="0.65" stroke-dasharray="1.3 1.1"/>
<g clip-path="url(#clipD1)">
<path d="M402.4 266.6 409.1 267.2 416.5 268.2 422.5 269.1 428.4 270.1 432.9 271.1 437.4 272.4 442.6 274.1 447.8 276.1 451.5 276.8 454.5 277.0 455.2 276.7 456.0 276.0 456.7 275.0 458.2 272.5 458.9 271.1 461.2 263.9 464.2 256.0 464.9 254.6 466.4 252.6 467.9 251.0 468.6 250.6 470.1 250.6 472.3 251.1 476.8 252.8 481.3 254.9 483.5 255.8 488.7 257.3 493.2 258.4 499.1 259.2 508.1 260.0 514.7 260.5 520.7 260.6" fill="none" stroke="#8fa6d6" stroke-width="0.9" stroke-linejoin="round" stroke-linecap="round" stroke-opacity="0.9"/>
<path d="M402.4 266.8 409.1 267.5 416.5 268.4 422.5 269.4 428.4 270.5 432.9 271.6 437.4 272.9 442.6 274.7 446.3 276.4 447.8 276.9 451.5 277.6 454.5 277.8 455.2 277.4 456.0 276.7 456.7 275.7 458.2 273.1 458.9 271.5 461.2 264.0 464.2 255.6 464.9 254.1 466.4 251.9 467.9 250.2 468.6 249.8 470.1 249.8 472.3 250.4 476.8 252.1 481.3 254.4 483.5 255.3 488.7 257.0 493.2 258.1 499.1 258.9 508.1 259.8 514.7 260.3 520.7 260.4" fill="none" stroke="#8fa6d6" stroke-width="0.9" stroke-linejoin="round" stroke-linecap="round" stroke-opacity="0.9"/>
<path d="M402.4 266.4 409.1 267.1 416.5 267.9 422.5 268.8 428.4 269.8 432.9 270.7 437.4 271.9 442.6 273.6 447.8 275.5 451.5 276.1 454.5 276.3 455.2 276.0 456.0 275.3 456.7 274.4 458.9 270.7 461.2 263.9 464.2 256.4 464.9 255.1 466.4 253.1 467.9 251.6 468.6 251.2 470.1 251.2 472.3 251.8 476.8 253.3 481.3 255.3 483.5 256.2 488.7 257.6 493.2 258.6 499.1 259.4 508.1 260.2 514.7 260.6 520.7 260.7" fill="none" stroke="#a9c46e" stroke-width="0.8" stroke-linejoin="round" stroke-linecap="round" stroke-opacity="0.9"/>
<path d="M402.4 266.5 409.1 267.2 416.5 268.1 422.5 268.9 428.4 270.0 432.9 271.0 437.4 272.2 442.6 273.9 447.8 275.9 451.5 276.5 454.5 276.7 455.2 276.4 456.0 275.7 456.7 274.7 458.2 272.3 458.9 270.9 461.2 263.9 464.2 256.2 464.9 254.8 466.4 252.8 467.9 251.2 468.6 250.8 470.1 250.8 472.3 251.4 476.8 253.0 481.3 255.1 483.5 255.9 488.7 257.5 493.2 258.5 499.1 259.3 508.1 260.1 514.7 260.5 520.7 260.7" fill="none" stroke="#a9c46e" stroke-width="0.8" stroke-linejoin="round" stroke-linecap="round" stroke-opacity="0.9"/>
<path d="M402.4 266.6 409.1 267.3 416.5 268.2 423.2 269.1 429.2 270.1 435.9 271.6 442.6 273.5 447.0 274.9 448.5 275.2 451.5 275.2 454.5 274.9 455.2 274.4 456.0 273.6 458.2 269.9 460.4 263.6 461.2 261.9 462.7 258.8 464.2 256.3 464.9 255.3 467.1 253.1 467.9 252.6 468.6 252.3 469.4 252.2 472.3 252.6 476.1 253.4 483.5 256.3 488.7 257.7 493.2 258.6 499.1 259.4 508.1 260.2 514.7 260.7 520.7 260.8" fill="none" stroke="#111111" stroke-width="1.35" stroke-linejoin="round" stroke-linecap="round" stroke-opacity="1"/>
</g>
<rect x="402.40" y="218.40" width="118.50" height="89.80" fill="none" stroke="#8c8c8c" stroke-width="0.75"/>
<text x="402.40" y="319.20" font-size="7.8" text-anchor="middle" fill="#222222" stroke="#1c1c1c" stroke-width="0.18" >-200</text>
<line x1="432.02" y1="218.40" x2="432.02" y2="216.80" stroke="#8c8c8c" stroke-width="0.7" />
<line x1="432.02" y1="308.20" x2="432.02" y2="309.80" stroke="#8c8c8c" stroke-width="0.7" />
<text x="432.02" y="319.20" font-size="7.8" text-anchor="middle" fill="#222222" stroke="#1c1c1c" stroke-width="0.18" >-100</text>
<line x1="461.65" y1="218.40" x2="461.65" y2="216.80" stroke="#8c8c8c" stroke-width="0.7" />
<line x1="461.65" y1="308.20" x2="461.65" y2="309.80" stroke="#8c8c8c" stroke-width="0.7" />
<text x="461.65" y="319.20" font-size="7.8" text-anchor="middle" fill="#222222" stroke="#1c1c1c" stroke-width="0.18" >0</text>
<line x1="491.27" y1="218.40" x2="491.27" y2="216.80" stroke="#8c8c8c" stroke-width="0.7" />
<line x1="491.27" y1="308.20" x2="491.27" y2="309.80" stroke="#8c8c8c" stroke-width="0.7" />
<text x="491.27" y="319.20" font-size="7.8" text-anchor="middle" fill="#222222" stroke="#1c1c1c" stroke-width="0.18" >100</text>
<text x="520.90" y="319.20" font-size="7.8" text-anchor="middle" fill="#222222" stroke="#1c1c1c" stroke-width="0.18" >200</text>
<line x1="402.40" y1="232.50" x2="400.80" y2="232.50" stroke="#8c8c8c" stroke-width="0.7" />
<line x1="520.90" y1="232.50" x2="522.50" y2="232.50" stroke="#8c8c8c" stroke-width="0.7" />
<text x="398.90" y="235.80" font-size="7.8" text-anchor="end" fill="#222222" stroke="#1c1c1c" stroke-width="0.18" >20</text>
<line x1="402.40" y1="248.00" x2="400.80" y2="248.00" stroke="#8c8c8c" stroke-width="0.7" />
<line x1="520.90" y1="248.00" x2="522.50" y2="248.00" stroke="#8c8c8c" stroke-width="0.7" />
<text x="398.90" y="251.30" font-size="7.8" text-anchor="end" fill="#222222" stroke="#1c1c1c" stroke-width="0.18" >10</text>
<line x1="402.40" y1="263.50" x2="400.80" y2="263.50" stroke="#8c8c8c" stroke-width="0.7" />
<line x1="520.90" y1="263.50" x2="522.50" y2="263.50" stroke="#8c8c8c" stroke-width="0.7" />
<text x="398.90" y="266.80" font-size="7.8" text-anchor="end" fill="#222222" stroke="#1c1c1c" stroke-width="0.18" >0</text>
<line x1="402.40" y1="279.00" x2="400.80" y2="279.00" stroke="#8c8c8c" stroke-width="0.7" />
<line x1="520.90" y1="279.00" x2="522.50" y2="279.00" stroke="#8c8c8c" stroke-width="0.7" />
<text x="398.90" y="282.30" font-size="7.8" text-anchor="end" fill="#222222" stroke="#1c1c1c" stroke-width="0.18" >-10</text>
<line x1="402.40" y1="294.50" x2="400.80" y2="294.50" stroke="#8c8c8c" stroke-width="0.7" />
<line x1="520.90" y1="294.50" x2="522.50" y2="294.50" stroke="#8c8c8c" stroke-width="0.7" />
<text x="398.90" y="297.80" font-size="7.8" text-anchor="end" fill="#222222" stroke="#1c1c1c" stroke-width="0.18" >-20</text>
<text x="461.65" y="329.80" font-size="8.5" text-anchor="middle" fill="#222222" stroke="#1c1c1c" stroke-width="0.18" >x (km)</text>
<text x="0.00" y="0.00" font-size="8.8" text-anchor="middle" fill="#222222" stroke="#1c1c1c" stroke-width="0.18" transform="translate(383.4,263.8) rotate(-90)">Space function</text>
<text x="405.70" y="226.80" font-size="6.6" text-anchor="start" fill="#222222" stroke="#1c1c1c" stroke-width="0.18" >Earthquake 1</text>
<rect x="603.74" y="218.50" width="29.62" height="89.70" fill="#dedede"/>
<line x1="603.74" y1="218.50" x2="603.74" y2="308.20" stroke="#555" stroke-width="0.65" stroke-dasharray="1.3 1.1"/>
<line x1="633.36" y1="218.50" x2="633.36" y2="308.20" stroke="#555" stroke-width="0.65" stroke-dasharray="1.3 1.1"/>
<g clip-path="url(#clipD2)">
<path d="M559.2 274.3 567.4 276.1 577.8 279.0 583.8 280.9 586.8 282.1 589.0 283.2 591.2 284.5 592.0 285.0 593.5 286.4 595.0 288.1 599.4 293.8 600.9 295.5 602.4 296.9 606.2 299.8 608.4 301.1 609.9 301.6 610.6 301.7 611.4 301.3 612.1 300.3 612.9 298.9 614.4 295.0 615.1 292.7 615.8 288.8 616.6 283.6 619.6 258.6 622.5 238.5 623.3 234.4 624.8 228.0 625.5 225.6 626.3 224.9 627.0 225.1 628.5 225.9 633.7 230.2 640.4 237.0 643.4 239.7 645.7 241.2 649.4 243.3 655.3 246.1 658.3 247.3 662.8 248.8 671.0 251.1 674.7 252.0 677.7 252.5" fill="none" stroke="#8fa6d6" stroke-width="0.9" stroke-linejoin="round" stroke-linecap="round" stroke-opacity="0.7"/>
<path d="M559.2 274.0 567.4 275.7 577.8 278.5 583.8 280.4 586.8 281.6 589.0 282.6 591.2 283.8 593.5 285.7 595.0 287.4 599.4 292.9 600.9 294.6 602.4 295.9 606.2 298.7 608.4 300.0 609.9 300.5 610.6 300.5 611.4 300.2 612.1 299.3 612.9 297.8 614.4 294.1 615.1 291.8 615.8 288.1 616.6 283.0 619.6 258.7 622.5 239.2 623.3 235.2 624.8 229.1 625.5 226.7 626.3 226.1 627.0 226.2 628.5 227.0 633.7 231.2 640.4 237.8 643.4 240.4 645.7 241.8 649.4 243.9 655.3 246.6 662.8 249.2 671.0 251.5 677.7 252.8" fill="none" stroke="#a9c46e" stroke-width="0.8" stroke-linejoin="round" stroke-linecap="round" stroke-opacity="0.8"/>
<path d="M559.2 274.2 567.4 275.9 577.8 278.8 583.8 280.8 586.8 282.0 589.0 283.0 591.2 284.3 593.5 286.2 595.0 287.9 599.4 293.5 600.9 295.2 602.4 296.5 606.2 299.4 608.4 300.8 609.9 301.2 610.6 301.3 611.4 300.9 612.1 300.0 612.9 298.5 614.4 294.7 615.1 292.4 615.8 288.6 616.6 283.4 619.6 258.6 622.5 238.8 623.3 234.6 624.8 228.4 625.5 226.0 626.3 225.3 627.0 225.5 628.5 226.2 633.7 230.6 640.4 237.3 643.4 239.9 645.7 241.4 649.4 243.5 655.3 246.3 658.3 247.4 662.8 248.9 671.0 251.3 677.7 252.6" fill="none" stroke="#a9c46e" stroke-width="0.8" stroke-linejoin="round" stroke-linecap="round" stroke-opacity="0.8"/>
<path d="M559.2 274.4 567.4 276.2 577.8 279.1 583.8 281.1 586.8 282.3 589.0 283.4 591.2 284.7 592.0 285.2 593.5 286.6 595.0 288.4 599.4 294.1 600.9 295.8 602.4 297.2 606.2 300.1 608.4 301.5 609.9 302.0 610.6 302.1 611.4 301.7 612.1 300.7 612.9 299.2 614.4 295.3 615.1 293.0 615.8 289.1 616.6 283.8 619.6 258.5 622.5 238.3 623.3 234.1 624.8 227.7 625.5 225.2 626.3 224.5 627.0 224.7 628.5 225.5 633.7 229.9 640.4 236.7 643.4 239.4 645.7 240.9 649.4 243.1 655.3 245.9 658.3 247.1 662.8 248.6 671.0 251.0 674.7 251.9 677.7 252.4" fill="none" stroke="#a9c46e" stroke-width="0.8" stroke-linejoin="round" stroke-linecap="round" stroke-opacity="0.8"/>
<path d="M559.2 272.2 562.9 272.9 566.7 273.8 571.1 275.1 574.9 276.4 578.6 278.0 583.0 280.2 586.0 281.8 589.0 283.7 591.2 285.4 592.7 286.7 595.0 289.1 597.2 291.8 600.2 295.8 603.2 300.8 606.9 306.6 607.6 307.4 608.4 307.9 609.1 307.8 609.9 307.4 610.6 306.8 611.4 305.9 612.9 303.5 613.6 300.8 614.4 296.8 616.6 281.2 621.1 242.0 621.8 236.8 623.3 228.6 624.0 225.3 624.8 222.9 626.3 220.3 627.0 219.3 627.8 218.8 628.5 218.7 629.3 219.1 630.0 219.6 632.2 222.1 633.7 224.1 639.7 233.7 641.9 236.9 645.7 240.9 647.9 242.8 649.4 243.9 650.9 244.9 653.1 246.1 657.6 248.0 668.8 252.0 677.7 254.8" fill="none" stroke="#111111" stroke-width="1.35" stroke-linejoin="round" stroke-linecap="round" stroke-opacity="1"/>
</g>
<rect x="559.30" y="218.50" width="118.50" height="89.70" fill="none" stroke="#8c8c8c" stroke-width="0.75"/>
<text x="559.30" y="319.20" font-size="7.8" text-anchor="middle" fill="#222222" stroke="#1c1c1c" stroke-width="0.18" >-200</text>
<line x1="588.92" y1="218.50" x2="588.92" y2="216.90" stroke="#8c8c8c" stroke-width="0.7" />
<line x1="588.92" y1="308.20" x2="588.92" y2="309.80" stroke="#8c8c8c" stroke-width="0.7" />
<text x="588.92" y="319.20" font-size="7.8" text-anchor="middle" fill="#222222" stroke="#1c1c1c" stroke-width="0.18" >-100</text>
<line x1="618.55" y1="218.50" x2="618.55" y2="216.90" stroke="#8c8c8c" stroke-width="0.7" />
<line x1="618.55" y1="308.20" x2="618.55" y2="309.80" stroke="#8c8c8c" stroke-width="0.7" />
<text x="618.55" y="319.20" font-size="7.8" text-anchor="middle" fill="#222222" stroke="#1c1c1c" stroke-width="0.18" >0</text>
<line x1="648.17" y1="218.50" x2="648.17" y2="216.90" stroke="#8c8c8c" stroke-width="0.7" />
<line x1="648.17" y1="308.20" x2="648.17" y2="309.80" stroke="#8c8c8c" stroke-width="0.7" />
<text x="648.17" y="319.20" font-size="7.8" text-anchor="middle" fill="#222222" stroke="#1c1c1c" stroke-width="0.18" >100</text>
<text x="677.80" y="319.20" font-size="7.8" text-anchor="middle" fill="#222222" stroke="#1c1c1c" stroke-width="0.18" >200</text>
<line x1="559.30" y1="232.50" x2="557.70" y2="232.50" stroke="#8c8c8c" stroke-width="0.7" />
<line x1="677.80" y1="232.50" x2="679.40" y2="232.50" stroke="#8c8c8c" stroke-width="0.7" />
<text x="555.80" y="235.80" font-size="7.8" text-anchor="end" fill="#222222" stroke="#1c1c1c" stroke-width="0.18" >20</text>
<line x1="559.30" y1="248.00" x2="557.70" y2="248.00" stroke="#8c8c8c" stroke-width="0.7" />
<line x1="677.80" y1="248.00" x2="679.40" y2="248.00" stroke="#8c8c8c" stroke-width="0.7" />
<text x="555.80" y="251.30" font-size="7.8" text-anchor="end" fill="#222222" stroke="#1c1c1c" stroke-width="0.18" >10</text>
<line x1="559.30" y1="263.50" x2="557.70" y2="263.50" stroke="#8c8c8c" stroke-width="0.7" />
<line x1="677.80" y1="263.50" x2="679.40" y2="263.50" stroke="#8c8c8c" stroke-width="0.7" />
<text x="555.80" y="266.80" font-size="7.8" text-anchor="end" fill="#222222" stroke="#1c1c1c" stroke-width="0.18" >0</text>
<line x1="559.30" y1="279.00" x2="557.70" y2="279.00" stroke="#8c8c8c" stroke-width="0.7" />
<line x1="677.80" y1="279.00" x2="679.40" y2="279.00" stroke="#8c8c8c" stroke-width="0.7" />
<text x="555.80" y="282.30" font-size="7.8" text-anchor="end" fill="#222222" stroke="#1c1c1c" stroke-width="0.18" >-10</text>
<line x1="559.30" y1="294.50" x2="557.70" y2="294.50" stroke="#8c8c8c" stroke-width="0.7" />
<line x1="677.80" y1="294.50" x2="679.40" y2="294.50" stroke="#8c8c8c" stroke-width="0.7" />
<text x="555.80" y="297.80" font-size="7.8" text-anchor="end" fill="#222222" stroke="#1c1c1c" stroke-width="0.18" >-20</text>
<text x="618.55" y="329.80" font-size="8.5" text-anchor="middle" fill="#222222" stroke="#1c1c1c" stroke-width="0.18" >x (km)</text>
<text x="0.00" y="0.00" font-size="8.8" text-anchor="middle" fill="#222222" stroke="#1c1c1c" stroke-width="0.18" transform="translate(540.2,263.9) rotate(-90)">Space function</text>
<text x="562.60" y="226.90" font-size="6.6" text-anchor="start" fill="#222222" stroke="#1c1c1c" stroke-width="0.18" >Earthquake 2</text>
<text x="124.50" y="288.90" font-size="6.5" text-anchor="start" fill="#222222" stroke="#1c1c1c" stroke-width="0.18" >data not used</text>
<line x1="135.80" y1="291.20" x2="120.60" y2="301.00" stroke="#333" stroke-width="0.5" />
<path d="M120.2 301.3 L122.4 298.9 L123.1 300.0 Z" fill="#333"/>
<text x="480.50" y="286.40" font-size="6.5" text-anchor="start" fill="#222222" stroke="#1c1c1c" stroke-width="0.18" >data not used</text>
<line x1="492.80" y1="288.60" x2="477.60" y2="298.30" stroke="#333" stroke-width="0.5" />
<path d="M477.2 298.6 L479.4 296.2 L480.1 297.3 Z" fill="#333"/>
<line x1="285.20" y1="280.20" x2="301.70" y2="280.20" stroke="#111111" stroke-width="1.5" />
<text x="269.70" y="293.20" font-size="7.3" text-anchor="start" fill="#222222" stroke="#1c1c1c" stroke-width="0.18" >Synthetic (svd)</text>
<g clip-path="url(#clipBT)">
<path d="M45.6 433.6 46.3 425.4 47.3 417.9 48.7 411.4 50.6 405.1 52.9 399.0 55.4 394.0 58.6 388.5 62.4 383.2 66.7 378.1 71.6 373.2 77.0 368.5 83.8 363.4 90.4 358.9 97.6 354.6 105.4 350.4 114.9 345.8" fill="none" stroke="#8fa6d6" stroke-width="0.9" stroke-linejoin="round" stroke-linecap="round" stroke-opacity="0.6"/>
<path d="M45.6 433.6 46.3 425.6 47.3 418.3 48.7 411.8 50.6 405.6 52.9 399.7 55.4 394.8 58.6 389.4 62.4 384.2 66.7 379.3 71.6 374.5 77.0 369.8 83.8 364.8 90.4 360.4 97.6 356.2 105.4 352.1 114.9 347.5" fill="none" stroke="#8fa6d6" stroke-width="0.9" stroke-linejoin="round" stroke-linecap="round" stroke-opacity="0.6"/>
<path d="M45.6 433.6 46.3 425.7 47.3 418.6 48.7 412.3 50.6 406.2 52.9 400.4 55.4 395.6 58.6 390.3 62.4 385.3 66.7 380.4 71.6 375.7 77.0 371.2 83.8 366.2 90.4 362.0 97.6 357.8 105.4 353.8 114.9 349.3" fill="none" stroke="#8fa6d6" stroke-width="0.9" stroke-linejoin="round" stroke-linecap="round" stroke-opacity="0.6"/>
<path d="M45.6 433.6 46.3 425.8 47.3 418.8 48.7 412.6 50.6 406.6 52.9 401.0 55.4 396.2 58.6 391.0 62.4 386.0 66.7 381.2 71.6 376.6 77.0 372.1 83.8 367.3 90.4 363.1 97.6 359.0 105.4 355.0 114.9 350.7" fill="none" stroke="#a9c46e" stroke-width="0.9" stroke-linejoin="round" stroke-linecap="round" stroke-opacity="0.6"/>
<path d="M45.6 433.6 46.3 426.0 47.3 419.1 48.7 412.9 50.6 407.1 52.9 401.5 55.4 396.8 58.6 391.7 62.4 386.8 66.7 382.1 71.6 377.5 77.0 373.1 83.8 368.4 90.4 364.2 97.6 360.2 105.4 356.3 114.9 352.0" fill="none" stroke="#a9c46e" stroke-width="0.9" stroke-linejoin="round" stroke-linecap="round" stroke-opacity="0.6"/>
<path d="M45.6 433.6 46.3 426.1 47.3 419.3 48.7 413.3 50.6 407.5 52.9 402.0 55.4 397.4 58.6 392.4 62.4 387.6 66.7 382.9 71.6 378.5 77.0 374.1 83.8 369.4 90.4 365.4 97.6 361.4 105.4 357.6 114.9 353.3" fill="none" stroke="#a9c46e" stroke-width="0.9" stroke-linejoin="round" stroke-linecap="round" stroke-opacity="0.6"/>
<path d="M114.9 433.6 116.7 431.5 118.9 429.4 121.6 427.2 124.3 425.1 127.6 423.0 131.5 420.6 135.9 418.2 140.9 415.7 151.4 411.0 163.9 406.1 174.9 402.5 185.4 399.4 198.8 395.9 213.5 392.5 229.5 389.2 246.8 386.1 265.5 383.2 282.5 380.8 303.7 378.3 322.9 376.4" fill="none" stroke="#8fa6d6" stroke-width="0.9" stroke-linejoin="round" stroke-linecap="round" stroke-opacity="0.8"/>
<path d="M114.9 433.6 116.7 431.5 118.9 429.4 121.6 427.2 124.3 425.1 127.6 423.0 131.5 420.6 135.9 418.2 140.9 415.7 151.4 411.0 163.9 406.1 174.9 402.4 185.4 399.4 198.8 395.8 213.5 392.4 229.5 389.0 246.8 385.8 265.5 382.8 282.5 380.4 303.7 377.8 322.9 375.7" fill="none" stroke="#a9c46e" stroke-width="0.9" stroke-linejoin="round" stroke-linecap="round" stroke-opacity="0.75"/>
<path d="M114.9 433.6 116.7 431.5 118.9 429.4 121.6 427.2 124.3 425.1 127.6 423.0 131.5 420.6 139.9 416.2 150.1 411.5 162.4 406.6 173.3 402.9 185.4 399.3 198.8 395.7 213.5 392.2 229.5 388.7 246.8 385.4 265.5 382.3 282.5 379.7 303.7 376.9 322.9 374.7" fill="none" stroke="#a9c46e" stroke-width="0.9" stroke-linejoin="round" stroke-linecap="round" stroke-opacity="0.75"/>
<path d="M114.9 433.6 116.7 431.5 118.9 429.4 121.6 427.2 124.3 425.1 127.6 423.0 131.5 420.6 139.9 416.2 150.1 411.5 162.4 406.6 173.3 402.9 185.4 399.2 198.8 395.6 213.5 392.0 229.5 388.4 246.8 385.0 265.5 381.7 282.5 379.0 303.7 376.0 322.9 373.6" fill="none" stroke="#a9c46e" stroke-width="0.9" stroke-linejoin="round" stroke-linecap="round" stroke-opacity="0.75"/>
<path d="M45.6 433.6 46.3 425.3 47.3 417.7 48.7 411.0 50.6 404.6 52.9 398.5 55.4 393.4 58.6 387.8 62.4 382.5 66.7 377.3 71.6 372.3 77.0 367.5 83.8 362.3 90.4 357.8 97.6 353.4 105.4 349.1 114.9 344.4" fill="none" stroke="#111111" stroke-width="1.35" stroke-linejoin="round" stroke-linecap="round" stroke-opacity="1"/>
<path d="M114.9 433.6 116.5 431.7 118.5 429.7 120.6 427.9 123.2 426.0 129.1 422.0 136.9 417.7 145.3 413.7 155.3 409.4 166.9 404.9 180.1 400.3 194.9 395.5 209.2 391.3 224.8 386.9 241.7 382.5 260.0 377.9 279.6 373.3 300.6 368.6 322.9 363.9" fill="none" stroke="#111111" stroke-width="1.35" stroke-linejoin="round" stroke-linecap="round" stroke-opacity="1"/>
</g>
<rect x="45.60" y="343.50" width="276.80" height="90.10" fill="none" stroke="#8c8c8c" stroke-width="0.75"/>
<line x1="45.60" y1="433.60" x2="45.60" y2="435.20" stroke="#8c8c8c" stroke-width="0.7" />
<text x="45.60" y="446.40" font-size="7.8" text-anchor="middle" fill="#222222" stroke="#1c1c1c" stroke-width="0.18" >0</text>
<line x1="73.33" y1="343.50" x2="73.33" y2="341.90" stroke="#8c8c8c" stroke-width="0.7" />
<line x1="73.33" y1="433.60" x2="73.33" y2="435.20" stroke="#8c8c8c" stroke-width="0.7" />
<text x="73.33" y="446.40" font-size="7.8" text-anchor="middle" fill="#222222" stroke="#1c1c1c" stroke-width="0.18" >2</text>
<line x1="101.07" y1="343.50" x2="101.07" y2="341.90" stroke="#8c8c8c" stroke-width="0.7" />
<line x1="101.07" y1="433.60" x2="101.07" y2="435.20" stroke="#8c8c8c" stroke-width="0.7" />
<text x="101.07" y="446.40" font-size="7.8" text-anchor="middle" fill="#222222" stroke="#1c1c1c" stroke-width="0.18" >4</text>
<line x1="128.80" y1="343.50" x2="128.80" y2="341.90" stroke="#8c8c8c" stroke-width="0.7" />
<line x1="128.80" y1="433.60" x2="128.80" y2="435.20" stroke="#8c8c8c" stroke-width="0.7" />
<text x="128.80" y="446.40" font-size="7.8" text-anchor="middle" fill="#222222" stroke="#1c1c1c" stroke-width="0.18" >6</text>
<line x1="156.54" y1="343.50" x2="156.54" y2="341.90" stroke="#8c8c8c" stroke-width="0.7" />
<line x1="156.54" y1="433.60" x2="156.54" y2="435.20" stroke="#8c8c8c" stroke-width="0.7" />
<text x="156.54" y="446.40" font-size="7.8" text-anchor="middle" fill="#222222" stroke="#1c1c1c" stroke-width="0.18" >8</text>
<line x1="184.27" y1="343.50" x2="184.27" y2="341.90" stroke="#8c8c8c" stroke-width="0.7" />
<line x1="184.27" y1="433.60" x2="184.27" y2="435.20" stroke="#8c8c8c" stroke-width="0.7" />
<text x="184.27" y="446.40" font-size="7.8" text-anchor="middle" fill="#222222" stroke="#1c1c1c" stroke-width="0.18" >10</text>
<line x1="212.00" y1="343.50" x2="212.00" y2="341.90" stroke="#8c8c8c" stroke-width="0.7" />
<line x1="212.00" y1="433.60" x2="212.00" y2="435.20" stroke="#8c8c8c" stroke-width="0.7" />
<text x="212.00" y="446.40" font-size="7.8" text-anchor="middle" fill="#222222" stroke="#1c1c1c" stroke-width="0.18" >12</text>
<line x1="239.74" y1="343.50" x2="239.74" y2="341.90" stroke="#8c8c8c" stroke-width="0.7" />
<line x1="239.74" y1="433.60" x2="239.74" y2="435.20" stroke="#8c8c8c" stroke-width="0.7" />
<text x="239.74" y="446.40" font-size="7.8" text-anchor="middle" fill="#222222" stroke="#1c1c1c" stroke-width="0.18" >14</text>
<line x1="267.47" y1="343.50" x2="267.47" y2="341.90" stroke="#8c8c8c" stroke-width="0.7" />
<line x1="267.47" y1="433.60" x2="267.47" y2="435.20" stroke="#8c8c8c" stroke-width="0.7" />
<text x="267.47" y="446.40" font-size="7.8" text-anchor="middle" fill="#222222" stroke="#1c1c1c" stroke-width="0.18" >16</text>
<line x1="295.21" y1="343.50" x2="295.21" y2="341.90" stroke="#8c8c8c" stroke-width="0.7" />
<line x1="295.21" y1="433.60" x2="295.21" y2="435.20" stroke="#8c8c8c" stroke-width="0.7" />
<text x="295.21" y="446.40" font-size="7.8" text-anchor="middle" fill="#222222" stroke="#1c1c1c" stroke-width="0.18" >18</text>
<line x1="45.60" y1="409.50" x2="44.00" y2="409.50" stroke="#8c8c8c" stroke-width="0.7" />
<line x1="322.40" y1="409.50" x2="324.00" y2="409.50" stroke="#8c8c8c" stroke-width="0.7" />
<text x="41.30" y="412.80" font-size="7.8" text-anchor="end" fill="#222222" stroke="#1c1c1c" stroke-width="0.18" >0.5</text>
<line x1="45.60" y1="385.40" x2="44.00" y2="385.40" stroke="#8c8c8c" stroke-width="0.7" />
<line x1="322.40" y1="385.40" x2="324.00" y2="385.40" stroke="#8c8c8c" stroke-width="0.7" />
<text x="41.30" y="388.70" font-size="7.8" text-anchor="end" fill="#222222" stroke="#1c1c1c" stroke-width="0.18" >1</text>
<line x1="45.60" y1="361.30" x2="44.00" y2="361.30" stroke="#8c8c8c" stroke-width="0.7" />
<line x1="322.40" y1="361.30" x2="324.00" y2="361.30" stroke="#8c8c8c" stroke-width="0.7" />
<text x="41.30" y="364.60" font-size="7.8" text-anchor="end" fill="#222222" stroke="#1c1c1c" stroke-width="0.18" >1.5</text>
<text x="183.60" y="456.40" font-size="8.6" text-anchor="middle" fill="#222222" stroke="#1c1c1c" stroke-width="0.18" >t (yrs)</text>
<text x="0.00" y="0.00" font-size="8.8" text-anchor="middle" fill="#222222" stroke="#1c1c1c" stroke-width="0.18" transform="translate(27.8,389.1) rotate(-90)">Time function</text>
<g clip-path="url(#clipDT)">
<path d="M402.1 433.8 404.7 431.9 408.0 430.1 411.5 428.5 416.1 426.8 420.8 425.3 426.4 423.8 432.7 422.2 439.8 420.7 456.6 417.5 476.8 414.3 502.3 410.6 540.5 405.4" fill="none" stroke="#8fa6d6" stroke-width="0.9" stroke-linejoin="round" stroke-linecap="round" stroke-opacity="0.8"/>
<path d="M402.1 433.8 404.5 432.1 407.6 430.3 411.0 428.7 415.4 427.0 420.1 425.5 425.5 424.0 431.8 422.4 438.8 420.8 455.3 417.7 475.2 414.3 500.5 410.5 540.5 404.7" fill="none" stroke="#8fa6d6" stroke-width="0.9" stroke-linejoin="round" stroke-linecap="round" stroke-opacity="0.8"/>
<path d="M402.1 433.8 404.5 432.1 407.6 430.3 411.0 428.7 415.4 427.0 420.1 425.5 425.5 423.9 431.8 422.4 438.8 420.8 454.0 417.8 472.2 414.6 495.1 411.0 540.5 404.0" fill="none" stroke="#8fa6d6" stroke-width="0.9" stroke-linejoin="round" stroke-linecap="round" stroke-opacity="0.8"/>
<path d="M402.1 433.8 405.0 431.9 408.4 430.2 412.0 428.6 416.7 427.0 422.3 425.3 428.1 423.8 435.7 422.1 443.2 420.7 460.6 417.7 483.2 414.5 509.8 411.2 540.5 407.9" fill="none" stroke="#a9c46e" stroke-width="0.9" stroke-linejoin="round" stroke-linecap="round" stroke-opacity="0.8"/>
<path d="M402.1 433.8 405.0 431.9 408.4 430.2 412.0 428.6 416.7 427.0 422.3 425.3 428.1 423.8 435.7 422.1 443.2 420.6 460.6 417.6 483.2 414.3 509.8 410.9 540.5 407.4" fill="none" stroke="#a9c46e" stroke-width="0.9" stroke-linejoin="round" stroke-linecap="round" stroke-opacity="0.8"/>
<path d="M402.1 433.8 405.0 431.9 408.4 430.2 412.0 428.6 416.7 426.9 422.3 425.2 428.1 423.7 435.7 422.0 443.2 420.5 460.6 417.4 483.2 414.1 509.8 410.6 540.5 406.9" fill="none" stroke="#a9c46e" stroke-width="0.9" stroke-linejoin="round" stroke-linecap="round" stroke-opacity="0.8"/>
<path d="M540.5 433.8 540.8 429.2 541.2 425.7 543.4 413.8 544.2 410.4 545.1 407.4 546.5 403.5 547.6 400.9 548.8 398.6 550.6 395.9 552.0 394.0 554.1 391.7 557.0 388.9 559.5 386.7 562.1 384.6 564.9 382.7 570.3 379.7 578.0 376.0 582.6 374.1 589.6 371.8 647.1 354.2 662.9 350.2 678.0 346.9" fill="none" stroke="#8fa6d6" stroke-width="0.9" stroke-linejoin="round" stroke-linecap="round" stroke-opacity="0.8"/>
<path d="M540.5 433.8 540.8 429.2 541.2 425.7 543.4 413.8 544.2 410.4 545.1 407.4 546.5 403.6 547.6 401.0 548.8 398.7 550.1 396.6 551.6 394.8 553.6 392.5 556.4 389.7 558.8 387.5 561.4 385.5 564.2 383.6 569.5 380.7 577.1 377.3 582.6 375.2 589.6 373.1 647.1 355.9 662.9 351.9 678.0 348.7" fill="none" stroke="#8fa6d6" stroke-width="0.9" stroke-linejoin="round" stroke-linecap="round" stroke-opacity="0.8"/>
<path d="M540.5 433.8 540.8 429.2 541.2 425.7 543.4 413.8 544.2 410.4 545.1 407.4 546.5 403.6 547.6 401.0 548.8 398.7 550.1 396.6 551.6 394.7 553.6 392.4 556.4 389.6 558.8 387.4 561.4 385.4 564.2 383.5 569.5 380.6 577.1 377.1 582.6 375.0 589.6 372.7 647.1 355.5 662.9 351.5 678.0 348.3" fill="none" stroke="#a9c46e" stroke-width="0.9" stroke-linejoin="round" stroke-linecap="round" stroke-opacity="0.6"/>
<path d="M540.5 433.8 540.8 429.2 541.2 425.7 543.4 413.8 544.2 410.4 545.1 407.4 546.5 403.6 547.6 401.0 548.8 398.7 550.1 396.7 551.6 394.8 553.6 392.6 556.4 389.8 558.8 387.7 561.4 385.7 564.2 383.8 569.5 381.0 577.1 377.8 581.7 376.1 590.7 373.4 647.1 356.7 662.9 352.8 678.0 349.6" fill="none" stroke="#a9c46e" stroke-width="0.9" stroke-linejoin="round" stroke-linecap="round" stroke-opacity="0.6"/>
<path d="M540.5 433.8 540.8 429.2 541.2 425.7 543.4 413.8 544.2 410.4 545.1 407.4 546.5 403.6 547.6 401.0 548.8 398.8 550.1 396.8 551.6 394.9 553.6 392.7 556.4 390.0 558.8 387.9 561.4 386.0 563.5 384.6 567.2 382.6 571.9 380.5 578.0 378.1 582.6 376.6 586.6 375.6 647.1 357.9 662.9 354.1 678.0 350.9" fill="none" stroke="#a9c46e" stroke-width="0.9" stroke-linejoin="round" stroke-linecap="round" stroke-opacity="0.6"/>
<path d="M540.5 433.8 540.8 429.2 541.2 425.7 543.4 413.8 544.2 410.4 545.1 407.4 546.5 403.6 547.6 401.1 548.8 398.8 550.1 396.8 551.6 395.0 553.6 392.8 556.4 390.2 558.8 388.2 561.4 386.3 563.5 385.0 566.4 383.4 570.3 381.7 576.2 379.5 580.8 378.0 586.6 376.6 647.1 359.1 662.9 355.4 678.0 352.3" fill="none" stroke="#a9c46e" stroke-width="0.9" stroke-linejoin="round" stroke-linecap="round" stroke-opacity="0.6"/>
<path d="M540.5 433.8 540.8 429.2 541.2 425.7 543.4 413.8 544.8 408.4 546.1 404.6 547.2 401.9 548.4 399.6 549.7 397.5 551.1 395.7 552.6 394.0 555.2 391.4 557.6 389.4 560.1 387.5 562.8 385.7 565.7 384.2 569.5 382.5 574.5 380.7 579.8 379.0 586.6 377.5 647.1 360.4 662.9 356.6 678.0 353.6" fill="none" stroke="#a9c46e" stroke-width="0.9" stroke-linejoin="round" stroke-linecap="round" stroke-opacity="0.6"/>
<path d="M402.1 433.8 405.0 431.8 408.4 430.0 412.6 428.1 417.4 426.4 423.1 424.7 429.0 423.2 436.7 421.6 444.3 420.2 454.0 418.6 463.4 417.2 484.8 414.6 509.8 412.1 540.5 409.6" fill="none" stroke="#111111" stroke-width="1.35" stroke-linejoin="round" stroke-linecap="round" stroke-opacity="1"/>
<path d="M540.5 433.8 540.8 429.2 541.2 425.7 543.4 413.8 544.2 410.4 545.1 407.4 546.5 403.5 547.6 400.9 548.8 398.5 550.6 395.8 552.6 393.3 554.7 390.9 557.6 387.9 560.1 385.7 562.8 383.5 565.7 381.5 571.1 378.4 578.9 374.4 583.6 372.3 589.6 370.2 647.1 352.2 662.9 348.1 678.0 344.7" fill="none" stroke="#111111" stroke-width="1.35" stroke-linejoin="round" stroke-linecap="round" stroke-opacity="1"/>
</g>
<rect x="402.10" y="343.60" width="275.90" height="90.20" fill="none" stroke="#8c8c8c" stroke-width="0.75"/>
<line x1="402.10" y1="433.80" x2="402.10" y2="435.40" stroke="#8c8c8c" stroke-width="0.7" />
<text x="402.10" y="446.40" font-size="7.8" text-anchor="middle" fill="#222222" stroke="#1c1c1c" stroke-width="0.18" >0</text>
<line x1="429.79" y1="343.60" x2="429.79" y2="342.00" stroke="#8c8c8c" stroke-width="0.7" />
<line x1="429.79" y1="433.80" x2="429.79" y2="435.40" stroke="#8c8c8c" stroke-width="0.7" />
<text x="429.79" y="446.40" font-size="7.8" text-anchor="middle" fill="#222222" stroke="#1c1c1c" stroke-width="0.18" >2</text>
<line x1="457.48" y1="343.60" x2="457.48" y2="342.00" stroke="#8c8c8c" stroke-width="0.7" />
<line x1="457.48" y1="433.80" x2="457.48" y2="435.40" stroke="#8c8c8c" stroke-width="0.7" />
<text x="457.48" y="446.40" font-size="7.8" text-anchor="middle" fill="#222222" stroke="#1c1c1c" stroke-width="0.18" >4</text>
<line x1="485.16" y1="343.60" x2="485.16" y2="342.00" stroke="#8c8c8c" stroke-width="0.7" />
<line x1="485.16" y1="433.80" x2="485.16" y2="435.40" stroke="#8c8c8c" stroke-width="0.7" />
<text x="485.16" y="446.40" font-size="7.8" text-anchor="middle" fill="#222222" stroke="#1c1c1c" stroke-width="0.18" >6</text>
<line x1="512.85" y1="343.60" x2="512.85" y2="342.00" stroke="#8c8c8c" stroke-width="0.7" />
<line x1="512.85" y1="433.80" x2="512.85" y2="435.40" stroke="#8c8c8c" stroke-width="0.7" />
<text x="512.85" y="446.40" font-size="7.8" text-anchor="middle" fill="#222222" stroke="#1c1c1c" stroke-width="0.18" >8</text>
<line x1="540.54" y1="343.60" x2="540.54" y2="342.00" stroke="#8c8c8c" stroke-width="0.7" />
<line x1="540.54" y1="433.80" x2="540.54" y2="435.40" stroke="#8c8c8c" stroke-width="0.7" />
<text x="540.54" y="446.40" font-size="7.8" text-anchor="middle" fill="#222222" stroke="#1c1c1c" stroke-width="0.18" >10</text>
<line x1="568.23" y1="343.60" x2="568.23" y2="342.00" stroke="#8c8c8c" stroke-width="0.7" />
<line x1="568.23" y1="433.80" x2="568.23" y2="435.40" stroke="#8c8c8c" stroke-width="0.7" />
<text x="568.23" y="446.40" font-size="7.8" text-anchor="middle" fill="#222222" stroke="#1c1c1c" stroke-width="0.18" >12</text>
<line x1="595.92" y1="343.60" x2="595.92" y2="342.00" stroke="#8c8c8c" stroke-width="0.7" />
<line x1="595.92" y1="433.80" x2="595.92" y2="435.40" stroke="#8c8c8c" stroke-width="0.7" />
<text x="595.92" y="446.40" font-size="7.8" text-anchor="middle" fill="#222222" stroke="#1c1c1c" stroke-width="0.18" >14</text>
<line x1="623.60" y1="343.60" x2="623.60" y2="342.00" stroke="#8c8c8c" stroke-width="0.7" />
<line x1="623.60" y1="433.80" x2="623.60" y2="435.40" stroke="#8c8c8c" stroke-width="0.7" />
<text x="623.60" y="446.40" font-size="7.8" text-anchor="middle" fill="#222222" stroke="#1c1c1c" stroke-width="0.18" >16</text>
<line x1="651.29" y1="343.60" x2="651.29" y2="342.00" stroke="#8c8c8c" stroke-width="0.7" />
<line x1="651.29" y1="433.80" x2="651.29" y2="435.40" stroke="#8c8c8c" stroke-width="0.7" />
<text x="651.29" y="446.40" font-size="7.8" text-anchor="middle" fill="#222222" stroke="#1c1c1c" stroke-width="0.18" >18</text>
<line x1="402.10" y1="414.00" x2="400.50" y2="414.00" stroke="#8c8c8c" stroke-width="0.7" />
<line x1="678.00" y1="414.00" x2="679.60" y2="414.00" stroke="#8c8c8c" stroke-width="0.7" />
<text x="397.80" y="417.30" font-size="7.8" text-anchor="end" fill="#222222" stroke="#1c1c1c" stroke-width="0.18" >0.5</text>
<line x1="402.10" y1="394.20" x2="400.50" y2="394.20" stroke="#8c8c8c" stroke-width="0.7" />
<line x1="678.00" y1="394.20" x2="679.60" y2="394.20" stroke="#8c8c8c" stroke-width="0.7" />
<text x="397.80" y="397.50" font-size="7.8" text-anchor="end" fill="#222222" stroke="#1c1c1c" stroke-width="0.18" >1</text>
<line x1="402.10" y1="374.40" x2="400.50" y2="374.40" stroke="#8c8c8c" stroke-width="0.7" />
<line x1="678.00" y1="374.40" x2="679.60" y2="374.40" stroke="#8c8c8c" stroke-width="0.7" />
<text x="397.80" y="377.70" font-size="7.8" text-anchor="end" fill="#222222" stroke="#1c1c1c" stroke-width="0.18" >1.5</text>
<line x1="402.10" y1="354.60" x2="400.50" y2="354.60" stroke="#8c8c8c" stroke-width="0.7" />
<line x1="678.00" y1="354.60" x2="679.60" y2="354.60" stroke="#8c8c8c" stroke-width="0.7" />
<text x="397.80" y="357.90" font-size="7.8" text-anchor="end" fill="#222222" stroke="#1c1c1c" stroke-width="0.18" >2</text>
<text x="539.50" y="456.40" font-size="8.6" text-anchor="middle" fill="#222222" stroke="#1c1c1c" stroke-width="0.18" >t (yrs)</text>
<text x="0.00" y="0.00" font-size="8.8" text-anchor="middle" fill="#222222" stroke="#1c1c1c" stroke-width="0.18" transform="translate(384.3,389.2) rotate(-90)">Time function</text>
<text x="131.50" y="372.20" font-size="6.5" text-anchor="middle" fill="#222222" stroke="#1c1c1c" stroke-width="0.18" >ensemble of models</text>
<text x="131.50" y="380.50" font-size="6.5" text-anchor="middle" fill="#222222" stroke="#1c1c1c" stroke-width="0.18" >with various A<tspan font-size="4.4" dy="-2.4">-1</tspan><tspan dy="2.4">,n</tspan></text>
<line x1="125.40" y1="366.10" x2="115.20" y2="354.30" stroke="#333" stroke-width="0.5" />
<path d="M114.6 353.6 L117.4 355.2 L116.3 356.2 Z" fill="#333"/>
<text x="491.20" y="381.40" font-size="6.5" text-anchor="middle" fill="#222222" stroke="#1c1c1c" stroke-width="0.18" >ensemble of models</text>
<text x="491.20" y="389.00" font-size="6.5" text-anchor="middle" fill="#222222" stroke="#1c1c1c" stroke-width="0.18" >with various A<tspan font-size="4.4" dy="-2.4">-1</tspan><tspan dy="2.4">,n</tspan></text>
<line x1="500.50" y1="391.50" x2="527.60" y2="406.40" stroke="#333" stroke-width="0.5" />
<path d="M528.3 406.8 L525.3 406.2 L526.0 404.9 Z" fill="#333"/>
<text x="289.00" y="407.30" font-size="7.4" text-anchor="middle" fill="#222222" stroke="#1c1c1c" stroke-width="0.18" >M<tspan font-size="4.9" dy="2.3">ratio</tspan><tspan dy="-2.3"> = 0.9:0.1</tspan></text>
<text x="289.00" y="416.30" font-size="7.4" text-anchor="middle" fill="#222222" stroke="#1c1c1c" stroke-width="0.18" >ΔT<tspan font-size="4.9" dy="2.3">events</tspan><tspan dy="-2.3"> = 5 years</tspan></text>
<text x="289.00" y="424.90" font-size="7.4" text-anchor="middle" fill="#222222" stroke="#1c1c1c" stroke-width="0.18" >T<tspan font-size="4.9" dy="2.3">eq</tspan><tspan dy="-2.3"> = 200 years</tspan></text>
<text x="644.00" y="407.30" font-size="7.4" text-anchor="middle" fill="#222222" stroke="#1c1c1c" stroke-width="0.18" >M<tspan font-size="4.9" dy="2.3">ratio</tspan><tspan dy="-2.3"> = 0.2:0.8</tspan></text>
<text x="644.00" y="416.30" font-size="7.4" text-anchor="middle" fill="#222222" stroke="#1c1c1c" stroke-width="0.18" >ΔT<tspan font-size="4.9" dy="2.3">events</tspan><tspan dy="-2.3"> = 10 years</tspan></text>
<text x="644.00" y="424.90" font-size="7.4" text-anchor="middle" fill="#222222" stroke="#1c1c1c" stroke-width="0.18" >T<tspan font-size="4.9" dy="2.3">eq</tspan><tspan dy="-2.3"> = 200 years</tspan></text>
</svg></body></html>
